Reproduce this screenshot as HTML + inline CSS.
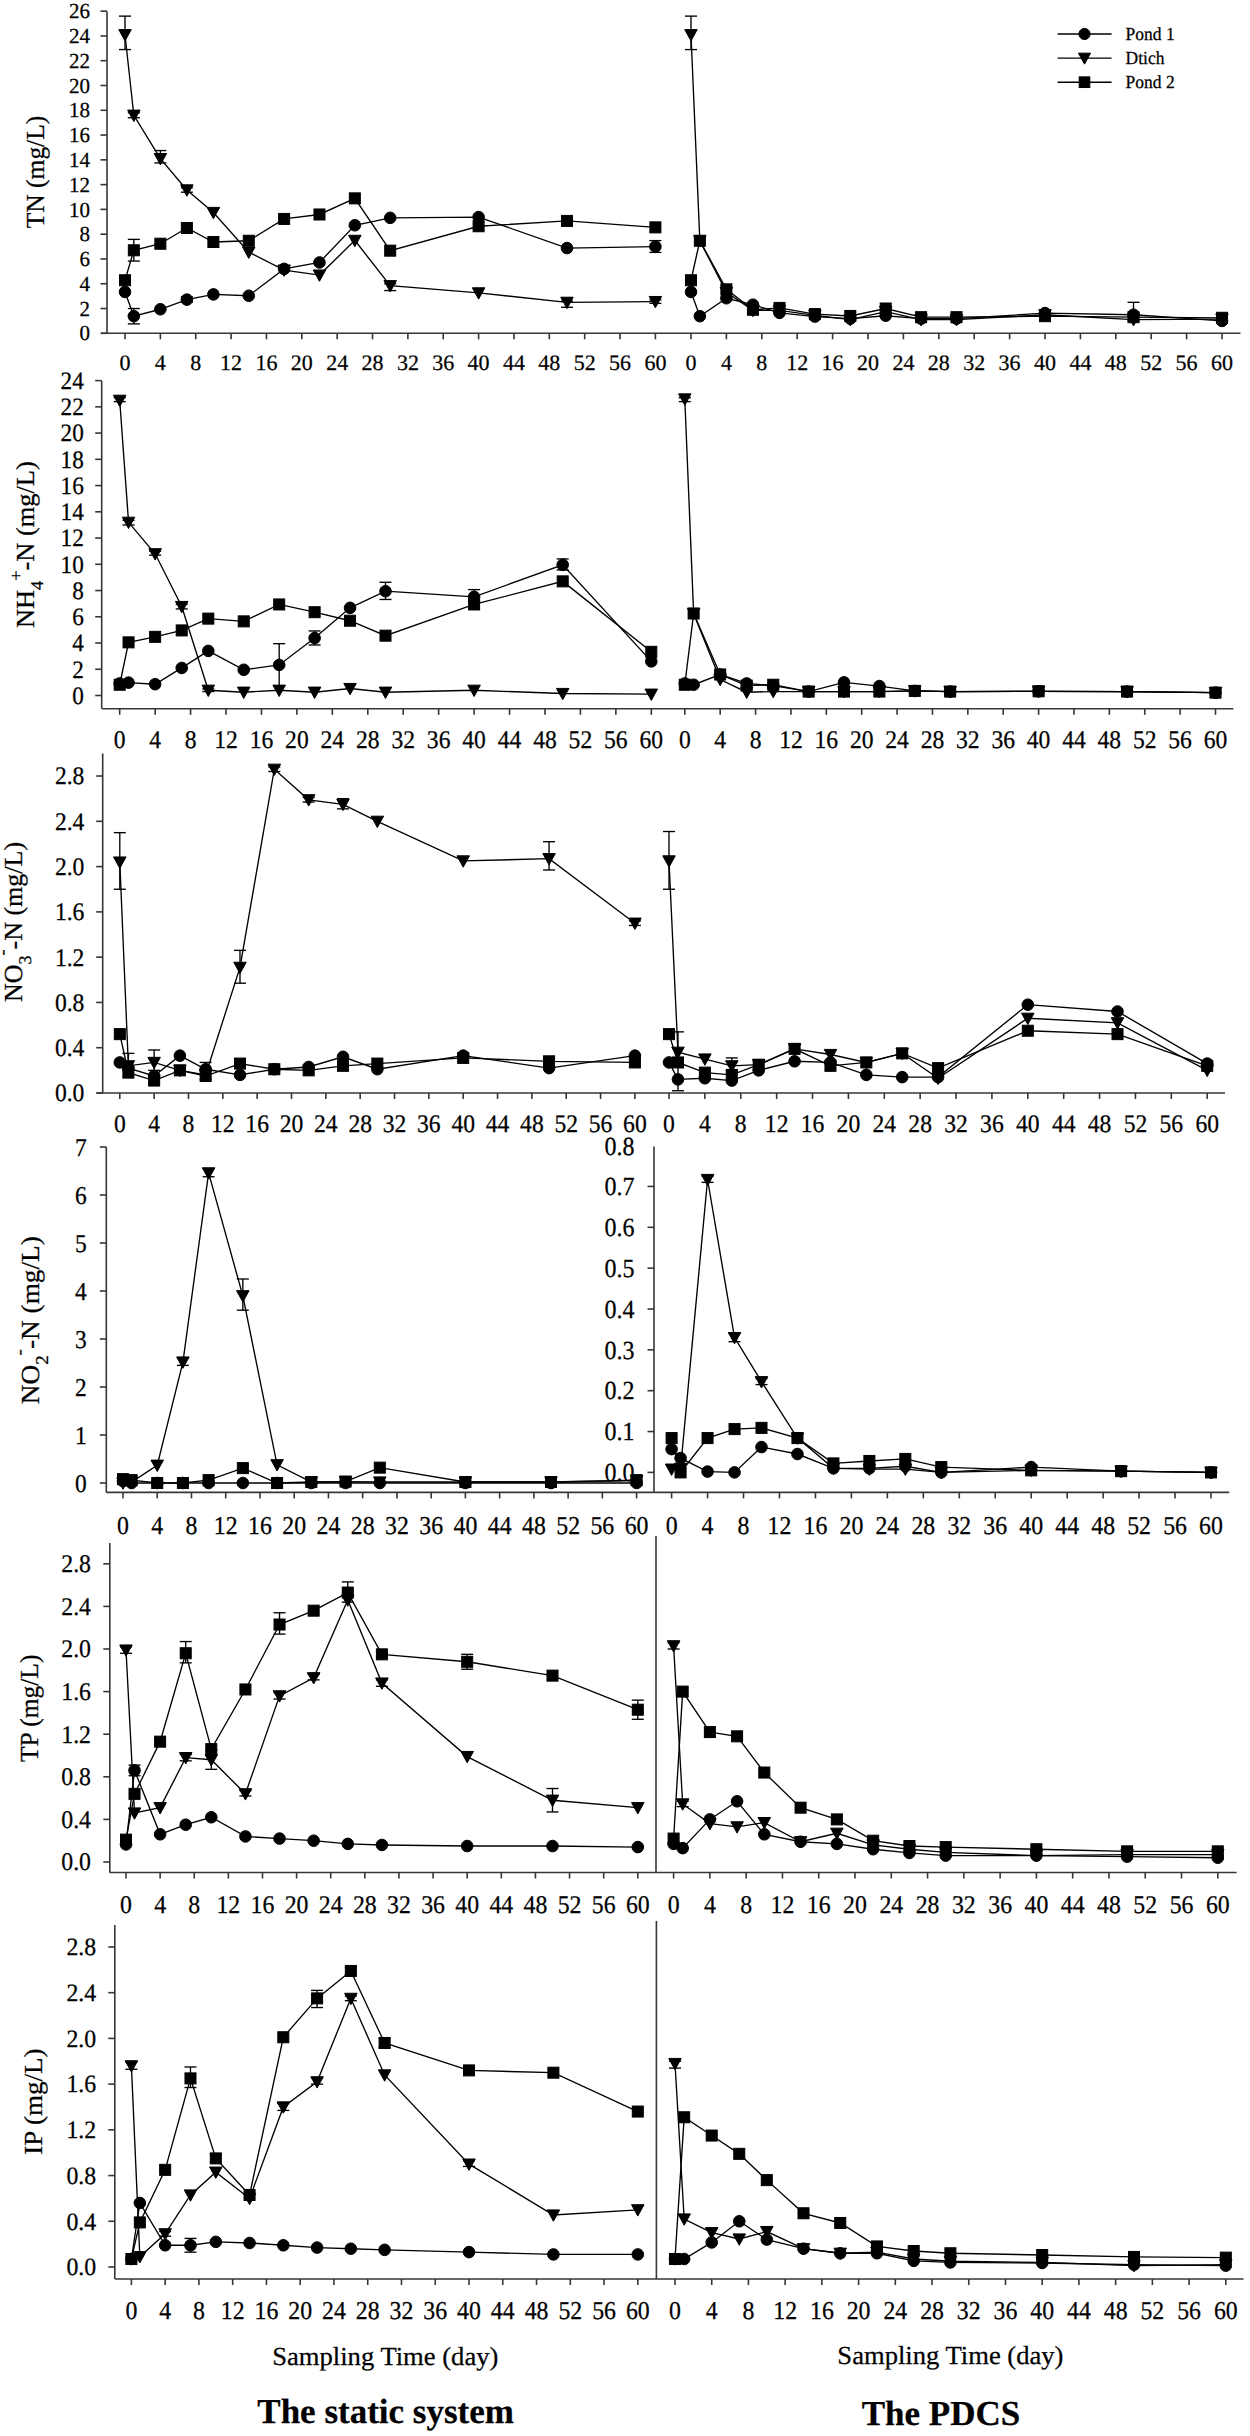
<!DOCTYPE html>
<html><head><meta charset="utf-8"><title>Nitrogen and phosphorus dynamics</title>
<style>
html,body{margin:0;padding:0;background:#fff;}
svg{display:block;}
text{font-family:"Liberation Serif", serif;fill:#000;text-rendering:geometricPrecision;}
</style></head>
<body>
<svg width="1250" height="2436" viewBox="0 0 1250 2436">
<rect width="1250" height="2436" fill="#fff"/>
<g stroke="#000" fill="#000" stroke-linecap="butt">
<line x1="107" y1="11.2" x2="107" y2="333.3" stroke-width="1.6" stroke="#363636"/>
<line x1="100.5" y1="333.3" x2="107" y2="333.3" stroke-width="1.6" stroke="#363636"/>
<text stroke="#000" stroke-width="0.25" transform="translate(90,340.43) scale(1.000,1.020)" font-size="21" text-anchor="end">0</text>
<line x1="100.5" y1="308.52" x2="107" y2="308.52" stroke-width="1.6" stroke="#363636"/>
<text stroke="#000" stroke-width="0.25" transform="translate(90,315.65) scale(1.000,1.020)" font-size="21" text-anchor="end">2</text>
<line x1="100.5" y1="283.74" x2="107" y2="283.74" stroke-width="1.6" stroke="#363636"/>
<text stroke="#000" stroke-width="0.25" transform="translate(90,290.87) scale(1.000,1.020)" font-size="21" text-anchor="end">4</text>
<line x1="100.5" y1="258.96" x2="107" y2="258.96" stroke-width="1.6" stroke="#363636"/>
<text stroke="#000" stroke-width="0.25" transform="translate(90,266.09) scale(1.000,1.020)" font-size="21" text-anchor="end">6</text>
<line x1="100.5" y1="234.18" x2="107" y2="234.18" stroke-width="1.6" stroke="#363636"/>
<text stroke="#000" stroke-width="0.25" transform="translate(90,241.31) scale(1.000,1.020)" font-size="21" text-anchor="end">8</text>
<line x1="100.5" y1="209.4" x2="107" y2="209.4" stroke-width="1.6" stroke="#363636"/>
<text stroke="#000" stroke-width="0.25" transform="translate(90,216.53) scale(1.000,1.020)" font-size="21" text-anchor="end">10</text>
<line x1="100.5" y1="184.62" x2="107" y2="184.62" stroke-width="1.6" stroke="#363636"/>
<text stroke="#000" stroke-width="0.25" transform="translate(90,191.75) scale(1.000,1.020)" font-size="21" text-anchor="end">12</text>
<line x1="100.5" y1="159.84" x2="107" y2="159.84" stroke-width="1.6" stroke="#363636"/>
<text stroke="#000" stroke-width="0.25" transform="translate(90,166.97) scale(1.000,1.020)" font-size="21" text-anchor="end">14</text>
<line x1="100.5" y1="135.06" x2="107" y2="135.06" stroke-width="1.6" stroke="#363636"/>
<text stroke="#000" stroke-width="0.25" transform="translate(90,142.19) scale(1.000,1.020)" font-size="21" text-anchor="end">16</text>
<line x1="100.5" y1="110.28" x2="107" y2="110.28" stroke-width="1.6" stroke="#363636"/>
<text stroke="#000" stroke-width="0.25" transform="translate(90,117.41) scale(1.000,1.020)" font-size="21" text-anchor="end">18</text>
<line x1="100.5" y1="85.5" x2="107" y2="85.5" stroke-width="1.6" stroke="#363636"/>
<text stroke="#000" stroke-width="0.25" transform="translate(90,92.63) scale(1.000,1.020)" font-size="21" text-anchor="end">20</text>
<line x1="100.5" y1="60.72" x2="107" y2="60.72" stroke-width="1.6" stroke="#363636"/>
<text stroke="#000" stroke-width="0.25" transform="translate(90,67.85) scale(1.000,1.020)" font-size="21" text-anchor="end">22</text>
<line x1="100.5" y1="35.94" x2="107" y2="35.94" stroke-width="1.6" stroke="#363636"/>
<text stroke="#000" stroke-width="0.25" transform="translate(90,43.07) scale(1.000,1.020)" font-size="21" text-anchor="end">24</text>
<line x1="100.5" y1="11.16" x2="107" y2="11.16" stroke-width="1.6" stroke="#363636"/>
<text stroke="#000" stroke-width="0.25" transform="translate(90,18.29) scale(1.000,1.020)" font-size="21" text-anchor="end">26</text>
<line x1="101" y1="333.3" x2="1240.5" y2="333.3" stroke-width="1.6" stroke="#363636"/>
<line x1="125" y1="333.3" x2="125" y2="339.3" stroke-width="1.6" stroke="#363636"/>
<text stroke="#000" stroke-width="0.25" x="125" y="369.9" font-size="22" text-anchor="middle">0</text>
<line x1="160.36" y1="333.3" x2="160.36" y2="339.3" stroke-width="1.6" stroke="#363636"/>
<text stroke="#000" stroke-width="0.25" x="160.36" y="369.9" font-size="22" text-anchor="middle">4</text>
<line x1="195.72" y1="333.3" x2="195.72" y2="339.3" stroke-width="1.6" stroke="#363636"/>
<text stroke="#000" stroke-width="0.25" x="195.72" y="369.9" font-size="22" text-anchor="middle">8</text>
<line x1="231.08" y1="333.3" x2="231.08" y2="339.3" stroke-width="1.6" stroke="#363636"/>
<text stroke="#000" stroke-width="0.25" x="231.08" y="369.9" font-size="22" text-anchor="middle">12</text>
<line x1="266.44" y1="333.3" x2="266.44" y2="339.3" stroke-width="1.6" stroke="#363636"/>
<text stroke="#000" stroke-width="0.25" x="266.44" y="369.9" font-size="22" text-anchor="middle">16</text>
<line x1="301.8" y1="333.3" x2="301.8" y2="339.3" stroke-width="1.6" stroke="#363636"/>
<text stroke="#000" stroke-width="0.25" x="301.8" y="369.9" font-size="22" text-anchor="middle">20</text>
<line x1="337.16" y1="333.3" x2="337.16" y2="339.3" stroke-width="1.6" stroke="#363636"/>
<text stroke="#000" stroke-width="0.25" x="337.16" y="369.9" font-size="22" text-anchor="middle">24</text>
<line x1="372.52" y1="333.3" x2="372.52" y2="339.3" stroke-width="1.6" stroke="#363636"/>
<text stroke="#000" stroke-width="0.25" x="372.52" y="369.9" font-size="22" text-anchor="middle">28</text>
<line x1="407.88" y1="333.3" x2="407.88" y2="339.3" stroke-width="1.6" stroke="#363636"/>
<text stroke="#000" stroke-width="0.25" x="407.88" y="369.9" font-size="22" text-anchor="middle">32</text>
<line x1="443.24" y1="333.3" x2="443.24" y2="339.3" stroke-width="1.6" stroke="#363636"/>
<text stroke="#000" stroke-width="0.25" x="443.24" y="369.9" font-size="22" text-anchor="middle">36</text>
<line x1="478.6" y1="333.3" x2="478.6" y2="339.3" stroke-width="1.6" stroke="#363636"/>
<text stroke="#000" stroke-width="0.25" x="478.6" y="369.9" font-size="22" text-anchor="middle">40</text>
<line x1="513.96" y1="333.3" x2="513.96" y2="339.3" stroke-width="1.6" stroke="#363636"/>
<text stroke="#000" stroke-width="0.25" x="513.96" y="369.9" font-size="22" text-anchor="middle">44</text>
<line x1="549.32" y1="333.3" x2="549.32" y2="339.3" stroke-width="1.6" stroke="#363636"/>
<text stroke="#000" stroke-width="0.25" x="549.32" y="369.9" font-size="22" text-anchor="middle">48</text>
<line x1="584.68" y1="333.3" x2="584.68" y2="339.3" stroke-width="1.6" stroke="#363636"/>
<text stroke="#000" stroke-width="0.25" x="584.68" y="369.9" font-size="22" text-anchor="middle">52</text>
<line x1="620.04" y1="333.3" x2="620.04" y2="339.3" stroke-width="1.6" stroke="#363636"/>
<text stroke="#000" stroke-width="0.25" x="620.04" y="369.9" font-size="22" text-anchor="middle">56</text>
<line x1="655.4" y1="333.3" x2="655.4" y2="339.3" stroke-width="1.6" stroke="#363636"/>
<text stroke="#000" stroke-width="0.25" x="655.4" y="369.9" font-size="22" text-anchor="middle">60</text>
<line x1="691" y1="333.3" x2="691" y2="339.3" stroke-width="1.6" stroke="#363636"/>
<text stroke="#000" stroke-width="0.25" x="691" y="369.9" font-size="22" text-anchor="middle">0</text>
<line x1="726.4" y1="333.3" x2="726.4" y2="339.3" stroke-width="1.6" stroke="#363636"/>
<text stroke="#000" stroke-width="0.25" x="726.4" y="369.9" font-size="22" text-anchor="middle">4</text>
<line x1="761.8" y1="333.3" x2="761.8" y2="339.3" stroke-width="1.6" stroke="#363636"/>
<text stroke="#000" stroke-width="0.25" x="761.8" y="369.9" font-size="22" text-anchor="middle">8</text>
<line x1="797.2" y1="333.3" x2="797.2" y2="339.3" stroke-width="1.6" stroke="#363636"/>
<text stroke="#000" stroke-width="0.25" x="797.2" y="369.9" font-size="22" text-anchor="middle">12</text>
<line x1="832.6" y1="333.3" x2="832.6" y2="339.3" stroke-width="1.6" stroke="#363636"/>
<text stroke="#000" stroke-width="0.25" x="832.6" y="369.9" font-size="22" text-anchor="middle">16</text>
<line x1="868" y1="333.3" x2="868" y2="339.3" stroke-width="1.6" stroke="#363636"/>
<text stroke="#000" stroke-width="0.25" x="868" y="369.9" font-size="22" text-anchor="middle">20</text>
<line x1="903.4" y1="333.3" x2="903.4" y2="339.3" stroke-width="1.6" stroke="#363636"/>
<text stroke="#000" stroke-width="0.25" x="903.4" y="369.9" font-size="22" text-anchor="middle">24</text>
<line x1="938.8" y1="333.3" x2="938.8" y2="339.3" stroke-width="1.6" stroke="#363636"/>
<text stroke="#000" stroke-width="0.25" x="938.8" y="369.9" font-size="22" text-anchor="middle">28</text>
<line x1="974.2" y1="333.3" x2="974.2" y2="339.3" stroke-width="1.6" stroke="#363636"/>
<text stroke="#000" stroke-width="0.25" x="974.2" y="369.9" font-size="22" text-anchor="middle">32</text>
<line x1="1009.6" y1="333.3" x2="1009.6" y2="339.3" stroke-width="1.6" stroke="#363636"/>
<text stroke="#000" stroke-width="0.25" x="1009.6" y="369.9" font-size="22" text-anchor="middle">36</text>
<line x1="1045" y1="333.3" x2="1045" y2="339.3" stroke-width="1.6" stroke="#363636"/>
<text stroke="#000" stroke-width="0.25" x="1045" y="369.9" font-size="22" text-anchor="middle">40</text>
<line x1="1080.4" y1="333.3" x2="1080.4" y2="339.3" stroke-width="1.6" stroke="#363636"/>
<text stroke="#000" stroke-width="0.25" x="1080.4" y="369.9" font-size="22" text-anchor="middle">44</text>
<line x1="1115.8" y1="333.3" x2="1115.8" y2="339.3" stroke-width="1.6" stroke="#363636"/>
<text stroke="#000" stroke-width="0.25" x="1115.8" y="369.9" font-size="22" text-anchor="middle">48</text>
<line x1="1151.2" y1="333.3" x2="1151.2" y2="339.3" stroke-width="1.6" stroke="#363636"/>
<text stroke="#000" stroke-width="0.25" x="1151.2" y="369.9" font-size="22" text-anchor="middle">52</text>
<line x1="1186.6" y1="333.3" x2="1186.6" y2="339.3" stroke-width="1.6" stroke="#363636"/>
<text stroke="#000" stroke-width="0.25" x="1186.6" y="369.9" font-size="22" text-anchor="middle">56</text>
<line x1="1222" y1="333.3" x2="1222" y2="339.3" stroke-width="1.6" stroke="#363636"/>
<text stroke="#000" stroke-width="0.25" x="1222" y="369.9" font-size="22" text-anchor="middle">60</text>
<text stroke="#000" stroke-width="0.25" transform="translate(44.3,172) rotate(-90) scale(0.980,1.000)" x="0" y="0" font-size="26" text-anchor="middle">TN (mg/L)</text>
<polyline fill="none" stroke-width="1.35" points="125,291.92 133.84,316.2 160.36,309.26 186.88,299.6 213.4,294.4 248.76,295.76 284.12,268.87 319.48,262.43 354.84,225.26 390.2,217.83 478.6,217.08 567,248.06 655.4,246.57"/>
<line x1="133.84" y1="323.88" x2="133.84" y2="308.52" stroke-width="1.35"/>
<line x1="127.84" y1="323.88" x2="139.84" y2="323.88" stroke-width="1.35"/>
<line x1="127.84" y1="308.52" x2="139.84" y2="308.52" stroke-width="1.35"/>
<line x1="186.88" y1="302.32" x2="186.88" y2="296.75" stroke-width="1.35"/>
<line x1="180.88" y1="302.32" x2="192.88" y2="302.32" stroke-width="1.35"/>
<line x1="180.88" y1="296.75" x2="192.88" y2="296.75" stroke-width="1.35"/>
<line x1="655.4" y1="252.39" x2="655.4" y2="240.62" stroke-width="1.35"/>
<line x1="649.4" y1="252.39" x2="661.4" y2="252.39" stroke-width="1.35"/>
<line x1="649.4" y1="240.62" x2="661.4" y2="240.62" stroke-width="1.35"/>
<circle cx="125" cy="291.92" r="5.8"/>
<circle cx="133.84" cy="316.2" r="5.8"/>
<circle cx="160.36" cy="309.26" r="5.8"/>
<circle cx="186.88" cy="299.6" r="5.8"/>
<circle cx="213.4" cy="294.4" r="5.8"/>
<circle cx="248.76" cy="295.76" r="5.8"/>
<circle cx="284.12" cy="268.87" r="5.8"/>
<circle cx="319.48" cy="262.43" r="5.8"/>
<circle cx="354.84" cy="225.26" r="5.8"/>
<circle cx="390.2" cy="217.83" r="5.8"/>
<circle cx="478.6" cy="217.08" r="5.8"/>
<circle cx="567" cy="248.06" r="5.8"/>
<circle cx="655.4" cy="246.57" r="5.8"/>
<polyline fill="none" stroke-width="1.35" points="125,34.7 133.84,115.24 160.36,158.6 186.88,189.95 213.4,212.5 248.76,252.15 284.12,270.11 319.48,275.07 354.84,240.38 390.2,285.72 478.6,292.91 567,302.32 655.4,301.58"/>
<line x1="125" y1="49.57" x2="125" y2="16.12" stroke-width="1.35"/>
<line x1="119" y1="49.57" x2="131" y2="49.57" stroke-width="1.35"/>
<line x1="119" y1="16.12" x2="131" y2="16.12" stroke-width="1.35"/>
<line x1="133.84" y1="117.71" x2="133.84" y2="112.76" stroke-width="1.35"/>
<line x1="127.84" y1="117.71" x2="139.84" y2="117.71" stroke-width="1.35"/>
<line x1="127.84" y1="112.76" x2="139.84" y2="112.76" stroke-width="1.35"/>
<line x1="160.36" y1="162.94" x2="160.36" y2="150.55" stroke-width="1.35"/>
<line x1="154.36" y1="162.94" x2="166.36" y2="162.94" stroke-width="1.35"/>
<line x1="154.36" y1="150.55" x2="166.36" y2="150.55" stroke-width="1.35"/>
<line x1="186.88" y1="192.18" x2="186.88" y2="187.72" stroke-width="1.35"/>
<line x1="180.88" y1="192.18" x2="192.88" y2="192.18" stroke-width="1.35"/>
<line x1="180.88" y1="187.72" x2="192.88" y2="187.72" stroke-width="1.35"/>
<line x1="390.2" y1="290.55" x2="390.2" y2="283.74" stroke-width="1.35"/>
<line x1="384.2" y1="290.55" x2="396.2" y2="290.55" stroke-width="1.35"/>
<line x1="384.2" y1="283.74" x2="396.2" y2="283.74" stroke-width="1.35"/>
<line x1="567" y1="307.28" x2="567" y2="301.09" stroke-width="1.35"/>
<line x1="561" y1="307.28" x2="573" y2="307.28" stroke-width="1.35"/>
<line x1="561" y1="301.09" x2="573" y2="301.09" stroke-width="1.35"/>
<line x1="655.4" y1="303.32" x2="655.4" y2="299.85" stroke-width="1.35"/>
<line x1="649.4" y1="303.32" x2="661.4" y2="303.32" stroke-width="1.35"/>
<line x1="649.4" y1="299.85" x2="661.4" y2="299.85" stroke-width="1.35"/>
<path d="M118.74 29.59H131.26L125 40.95Z"/>
<path d="M127.58 110.12H140.1L133.84 121.49Z"/>
<path d="M154.1 153.49H166.62L160.36 164.85Z"/>
<path d="M180.62 184.83H193.14L186.88 196.2Z"/>
<path d="M207.14 207.38H219.66L213.4 218.75Z"/>
<path d="M242.5 247.03H255.02L248.76 258.4Z"/>
<path d="M277.86 265H290.38L284.12 276.36Z"/>
<path d="M313.22 269.95H325.74L319.48 281.32Z"/>
<path d="M348.58 235.26H361.1L354.84 246.63Z"/>
<path d="M383.94 280.61H396.46L390.2 291.97Z"/>
<path d="M472.34 287.79H484.86L478.6 299.16Z"/>
<path d="M560.74 297.21H573.26L567 308.58Z"/>
<path d="M649.14 296.47H661.66L655.4 307.83Z"/>
<polyline fill="none" stroke-width="1.35" points="125,280.27 133.84,250.29 160.36,243.72 186.88,227.99 213.4,241.99 248.76,240.75 284.12,218.94 319.48,214.48 354.84,198.37 390.2,250.66 478.6,226.25 567,220.92 655.4,227.37"/>
<line x1="133.84" y1="261.07" x2="133.84" y2="239.38" stroke-width="1.35"/>
<line x1="127.84" y1="261.07" x2="139.84" y2="261.07" stroke-width="1.35"/>
<line x1="127.84" y1="239.38" x2="139.84" y2="239.38" stroke-width="1.35"/>
<rect x="119.49" y="274.76" width="11.02" height="11.02"/>
<rect x="128.33" y="244.78" width="11.02" height="11.02"/>
<rect x="154.85" y="238.21" width="11.02" height="11.02"/>
<rect x="181.37" y="222.48" width="11.02" height="11.02"/>
<rect x="207.89" y="236.48" width="11.02" height="11.02"/>
<rect x="243.25" y="235.24" width="11.02" height="11.02"/>
<rect x="278.61" y="213.43" width="11.02" height="11.02"/>
<rect x="313.97" y="208.97" width="11.02" height="11.02"/>
<rect x="349.33" y="192.86" width="11.02" height="11.02"/>
<rect x="384.69" y="245.15" width="11.02" height="11.02"/>
<rect x="473.09" y="220.74" width="11.02" height="11.02"/>
<rect x="561.49" y="215.41" width="11.02" height="11.02"/>
<rect x="649.89" y="221.86" width="11.02" height="11.02"/>
<polyline fill="none" stroke-width="1.35" points="691,291.92 699.85,316.2 726.4,298.24 752.95,304.68 779.5,312.86 814.9,316.57 850.3,318.68 885.7,315.71 921.1,318.68 956.5,318.68 1045,313.1 1133.5,314.72 1222,320.91"/>
<circle cx="691" cy="291.92" r="5.8"/>
<circle cx="699.85" cy="316.2" r="5.8"/>
<circle cx="726.4" cy="298.24" r="5.8"/>
<circle cx="752.95" cy="304.68" r="5.8"/>
<circle cx="779.5" cy="312.86" r="5.8"/>
<circle cx="814.9" cy="316.57" r="5.8"/>
<circle cx="850.3" cy="318.68" r="5.8"/>
<circle cx="885.7" cy="315.71" r="5.8"/>
<circle cx="921.1" cy="318.68" r="5.8"/>
<circle cx="956.5" cy="318.68" r="5.8"/>
<circle cx="1045" cy="313.1" r="5.8"/>
<circle cx="1133.5" cy="314.72" r="5.8"/>
<circle cx="1222" cy="320.91" r="5.8"/>
<polyline fill="none" stroke-width="1.35" points="691,34.7 699.85,240.75 726.4,292.41 752.95,310.38 779.5,310.38 814.9,315.33 850.3,319.67 885.7,311.62 921.1,319.67 956.5,319.67 1045,314.72 1133.5,319.67 1222,319.05"/>
<line x1="691" y1="49.57" x2="691" y2="16.12" stroke-width="1.35"/>
<line x1="685" y1="49.57" x2="697" y2="49.57" stroke-width="1.35"/>
<line x1="685" y1="16.12" x2="697" y2="16.12" stroke-width="1.35"/>
<path d="M684.74 29.59H697.26L691 40.95Z"/>
<path d="M693.59 235.63H706.11L699.85 247Z"/>
<path d="M720.14 287.3H732.66L726.4 298.67Z"/>
<path d="M746.69 305.26H759.21L752.95 316.63Z"/>
<path d="M773.24 305.26H785.76L779.5 316.63Z"/>
<path d="M808.64 310.22H821.16L814.9 321.59Z"/>
<path d="M844.04 314.56H856.56L850.3 325.92Z"/>
<path d="M879.44 306.5H891.96L885.7 317.87Z"/>
<path d="M914.84 314.56H927.36L921.1 325.92Z"/>
<path d="M950.24 314.56H962.76L956.5 325.92Z"/>
<path d="M1038.74 309.6H1051.26L1045 320.97Z"/>
<path d="M1127.24 314.56H1139.76L1133.5 325.92Z"/>
<path d="M1215.74 313.94H1228.26L1222 325.3Z"/>
<polyline fill="none" stroke-width="1.35" points="691,280.27 699.85,240.75 726.4,289.32 752.95,309.76 779.5,307.9 814.9,314.1 850.3,315.95 885.7,308.52 921.1,317.19 956.5,317.19 1045,316.2 1133.5,317.19 1222,317.81"/>
<line x1="1133.5" y1="320.91" x2="1133.5" y2="302.32" stroke-width="1.35"/>
<line x1="1127.5" y1="320.91" x2="1139.5" y2="320.91" stroke-width="1.35"/>
<line x1="1127.5" y1="302.32" x2="1139.5" y2="302.32" stroke-width="1.35"/>
<rect x="685.49" y="274.76" width="11.02" height="11.02"/>
<rect x="694.34" y="235.24" width="11.02" height="11.02"/>
<rect x="720.89" y="283.81" width="11.02" height="11.02"/>
<rect x="747.44" y="304.25" width="11.02" height="11.02"/>
<rect x="773.99" y="302.39" width="11.02" height="11.02"/>
<rect x="809.39" y="308.59" width="11.02" height="11.02"/>
<rect x="844.79" y="310.44" width="11.02" height="11.02"/>
<rect x="880.19" y="303.01" width="11.02" height="11.02"/>
<rect x="915.59" y="311.68" width="11.02" height="11.02"/>
<rect x="950.99" y="311.68" width="11.02" height="11.02"/>
<rect x="1039.49" y="310.69" width="11.02" height="11.02"/>
<rect x="1127.99" y="311.68" width="11.02" height="11.02"/>
<rect x="1216.49" y="312.3" width="11.02" height="11.02"/>
<line x1="1057.6" y1="34" x2="1111.6" y2="34" stroke-width="1.35"/>
<circle cx="1084.5" cy="34" r="5.6"/>
<text stroke="#000" stroke-width="0.25" transform="translate(1125.6,40) scale(1.000,1.050)" font-size="17.5" text-anchor="start">Pond 1</text>
<line x1="1057.6" y1="58.1" x2="1111.6" y2="58.1" stroke-width="1.35"/>
<path d="M1078.45 53.16H1090.55L1084.5 64.14Z"/>
<text stroke="#000" stroke-width="0.25" transform="translate(1125.6,64.1) scale(1.000,1.050)" font-size="17.5" text-anchor="start">Dtich</text>
<line x1="1057.6" y1="82.2" x2="1111.6" y2="82.2" stroke-width="1.35"/>
<rect x="1079.18" y="76.88" width="10.64" height="10.64"/>
<text stroke="#000" stroke-width="0.25" transform="translate(1125.6,88.2) scale(1.000,1.050)" font-size="17.5" text-anchor="start">Pond 2</text>
<line x1="101.7" y1="381" x2="101.7" y2="708.8" stroke-width="1.6" stroke="#363636"/>
<line x1="95.2" y1="695.5" x2="101.7" y2="695.5" stroke-width="1.6" stroke="#363636"/>
<text stroke="#000" stroke-width="0.25" transform="translate(83.8,703.84) scale(1.000,1.080)" font-size="23.2" text-anchor="end">0</text>
<line x1="95.2" y1="669.26" x2="101.7" y2="669.26" stroke-width="1.6" stroke="#363636"/>
<text stroke="#000" stroke-width="0.25" transform="translate(83.8,677.6) scale(1.000,1.080)" font-size="23.2" text-anchor="end">2</text>
<line x1="95.2" y1="643.02" x2="101.7" y2="643.02" stroke-width="1.6" stroke="#363636"/>
<text stroke="#000" stroke-width="0.25" transform="translate(83.8,651.36) scale(1.000,1.080)" font-size="23.2" text-anchor="end">4</text>
<line x1="95.2" y1="616.78" x2="101.7" y2="616.78" stroke-width="1.6" stroke="#363636"/>
<text stroke="#000" stroke-width="0.25" transform="translate(83.8,625.12) scale(1.000,1.080)" font-size="23.2" text-anchor="end">6</text>
<line x1="95.2" y1="590.54" x2="101.7" y2="590.54" stroke-width="1.6" stroke="#363636"/>
<text stroke="#000" stroke-width="0.25" transform="translate(83.8,598.88) scale(1.000,1.080)" font-size="23.2" text-anchor="end">8</text>
<line x1="95.2" y1="564.3" x2="101.7" y2="564.3" stroke-width="1.6" stroke="#363636"/>
<text stroke="#000" stroke-width="0.25" transform="translate(83.8,572.64) scale(1.000,1.080)" font-size="23.2" text-anchor="end">10</text>
<line x1="95.2" y1="538.06" x2="101.7" y2="538.06" stroke-width="1.6" stroke="#363636"/>
<text stroke="#000" stroke-width="0.25" transform="translate(83.8,546.4) scale(1.000,1.080)" font-size="23.2" text-anchor="end">12</text>
<line x1="95.2" y1="511.82" x2="101.7" y2="511.82" stroke-width="1.6" stroke="#363636"/>
<text stroke="#000" stroke-width="0.25" transform="translate(83.8,520.16) scale(1.000,1.080)" font-size="23.2" text-anchor="end">14</text>
<line x1="95.2" y1="485.58" x2="101.7" y2="485.58" stroke-width="1.6" stroke="#363636"/>
<text stroke="#000" stroke-width="0.25" transform="translate(83.8,493.92) scale(1.000,1.080)" font-size="23.2" text-anchor="end">16</text>
<line x1="95.2" y1="459.34" x2="101.7" y2="459.34" stroke-width="1.6" stroke="#363636"/>
<text stroke="#000" stroke-width="0.25" transform="translate(83.8,467.68) scale(1.000,1.080)" font-size="23.2" text-anchor="end">18</text>
<line x1="95.2" y1="433.1" x2="101.7" y2="433.1" stroke-width="1.6" stroke="#363636"/>
<text stroke="#000" stroke-width="0.25" transform="translate(83.8,441.44) scale(1.000,1.080)" font-size="23.2" text-anchor="end">20</text>
<line x1="95.2" y1="406.86" x2="101.7" y2="406.86" stroke-width="1.6" stroke="#363636"/>
<text stroke="#000" stroke-width="0.25" transform="translate(83.8,415.2) scale(1.000,1.080)" font-size="23.2" text-anchor="end">22</text>
<line x1="95.2" y1="380.62" x2="101.7" y2="380.62" stroke-width="1.6" stroke="#363636"/>
<text stroke="#000" stroke-width="0.25" transform="translate(83.8,388.96) scale(1.000,1.080)" font-size="23.2" text-anchor="end">24</text>
<line x1="102" y1="708.8" x2="1233.4" y2="708.8" stroke-width="1.6" stroke="#363636"/>
<line x1="119.7" y1="708.8" x2="119.7" y2="714.8" stroke-width="1.6" stroke="#363636"/>
<text stroke="#000" stroke-width="0.25" transform="translate(119.7,748.4) scale(1.000,1.080)" font-size="23.6" text-anchor="middle">0</text>
<line x1="155.14" y1="708.8" x2="155.14" y2="714.8" stroke-width="1.6" stroke="#363636"/>
<text stroke="#000" stroke-width="0.25" transform="translate(155.14,748.4) scale(1.000,1.080)" font-size="23.6" text-anchor="middle">4</text>
<line x1="190.58" y1="708.8" x2="190.58" y2="714.8" stroke-width="1.6" stroke="#363636"/>
<text stroke="#000" stroke-width="0.25" transform="translate(190.58,748.4) scale(1.000,1.080)" font-size="23.6" text-anchor="middle">8</text>
<line x1="226.02" y1="708.8" x2="226.02" y2="714.8" stroke-width="1.6" stroke="#363636"/>
<text stroke="#000" stroke-width="0.25" transform="translate(226.02,748.4) scale(1.000,1.080)" font-size="23.6" text-anchor="middle">12</text>
<line x1="261.46" y1="708.8" x2="261.46" y2="714.8" stroke-width="1.6" stroke="#363636"/>
<text stroke="#000" stroke-width="0.25" transform="translate(261.46,748.4) scale(1.000,1.080)" font-size="23.6" text-anchor="middle">16</text>
<line x1="296.9" y1="708.8" x2="296.9" y2="714.8" stroke-width="1.6" stroke="#363636"/>
<text stroke="#000" stroke-width="0.25" transform="translate(296.9,748.4) scale(1.000,1.080)" font-size="23.6" text-anchor="middle">20</text>
<line x1="332.34" y1="708.8" x2="332.34" y2="714.8" stroke-width="1.6" stroke="#363636"/>
<text stroke="#000" stroke-width="0.25" transform="translate(332.34,748.4) scale(1.000,1.080)" font-size="23.6" text-anchor="middle">24</text>
<line x1="367.78" y1="708.8" x2="367.78" y2="714.8" stroke-width="1.6" stroke="#363636"/>
<text stroke="#000" stroke-width="0.25" transform="translate(367.78,748.4) scale(1.000,1.080)" font-size="23.6" text-anchor="middle">28</text>
<line x1="403.22" y1="708.8" x2="403.22" y2="714.8" stroke-width="1.6" stroke="#363636"/>
<text stroke="#000" stroke-width="0.25" transform="translate(403.22,748.4) scale(1.000,1.080)" font-size="23.6" text-anchor="middle">32</text>
<line x1="438.66" y1="708.8" x2="438.66" y2="714.8" stroke-width="1.6" stroke="#363636"/>
<text stroke="#000" stroke-width="0.25" transform="translate(438.66,748.4) scale(1.000,1.080)" font-size="23.6" text-anchor="middle">36</text>
<line x1="474.1" y1="708.8" x2="474.1" y2="714.8" stroke-width="1.6" stroke="#363636"/>
<text stroke="#000" stroke-width="0.25" transform="translate(474.1,748.4) scale(1.000,1.080)" font-size="23.6" text-anchor="middle">40</text>
<line x1="509.54" y1="708.8" x2="509.54" y2="714.8" stroke-width="1.6" stroke="#363636"/>
<text stroke="#000" stroke-width="0.25" transform="translate(509.54,748.4) scale(1.000,1.080)" font-size="23.6" text-anchor="middle">44</text>
<line x1="544.98" y1="708.8" x2="544.98" y2="714.8" stroke-width="1.6" stroke="#363636"/>
<text stroke="#000" stroke-width="0.25" transform="translate(544.98,748.4) scale(1.000,1.080)" font-size="23.6" text-anchor="middle">48</text>
<line x1="580.42" y1="708.8" x2="580.42" y2="714.8" stroke-width="1.6" stroke="#363636"/>
<text stroke="#000" stroke-width="0.25" transform="translate(580.42,748.4) scale(1.000,1.080)" font-size="23.6" text-anchor="middle">52</text>
<line x1="615.86" y1="708.8" x2="615.86" y2="714.8" stroke-width="1.6" stroke="#363636"/>
<text stroke="#000" stroke-width="0.25" transform="translate(615.86,748.4) scale(1.000,1.080)" font-size="23.6" text-anchor="middle">56</text>
<line x1="651.3" y1="708.8" x2="651.3" y2="714.8" stroke-width="1.6" stroke="#363636"/>
<text stroke="#000" stroke-width="0.25" transform="translate(651.3,748.4) scale(1.000,1.080)" font-size="23.6" text-anchor="middle">60</text>
<line x1="684.8" y1="708.8" x2="684.8" y2="714.8" stroke-width="1.6" stroke="#363636"/>
<text stroke="#000" stroke-width="0.25" transform="translate(684.8,748.4) scale(1.000,1.080)" font-size="23.6" text-anchor="middle">0</text>
<line x1="720.18" y1="708.8" x2="720.18" y2="714.8" stroke-width="1.6" stroke="#363636"/>
<text stroke="#000" stroke-width="0.25" transform="translate(720.18,748.4) scale(1.000,1.080)" font-size="23.6" text-anchor="middle">4</text>
<line x1="755.56" y1="708.8" x2="755.56" y2="714.8" stroke-width="1.6" stroke="#363636"/>
<text stroke="#000" stroke-width="0.25" transform="translate(755.56,748.4) scale(1.000,1.080)" font-size="23.6" text-anchor="middle">8</text>
<line x1="790.94" y1="708.8" x2="790.94" y2="714.8" stroke-width="1.6" stroke="#363636"/>
<text stroke="#000" stroke-width="0.25" transform="translate(790.94,748.4) scale(1.000,1.080)" font-size="23.6" text-anchor="middle">12</text>
<line x1="826.32" y1="708.8" x2="826.32" y2="714.8" stroke-width="1.6" stroke="#363636"/>
<text stroke="#000" stroke-width="0.25" transform="translate(826.32,748.4) scale(1.000,1.080)" font-size="23.6" text-anchor="middle">16</text>
<line x1="861.7" y1="708.8" x2="861.7" y2="714.8" stroke-width="1.6" stroke="#363636"/>
<text stroke="#000" stroke-width="0.25" transform="translate(861.7,748.4) scale(1.000,1.080)" font-size="23.6" text-anchor="middle">20</text>
<line x1="897.08" y1="708.8" x2="897.08" y2="714.8" stroke-width="1.6" stroke="#363636"/>
<text stroke="#000" stroke-width="0.25" transform="translate(897.08,748.4) scale(1.000,1.080)" font-size="23.6" text-anchor="middle">24</text>
<line x1="932.46" y1="708.8" x2="932.46" y2="714.8" stroke-width="1.6" stroke="#363636"/>
<text stroke="#000" stroke-width="0.25" transform="translate(932.46,748.4) scale(1.000,1.080)" font-size="23.6" text-anchor="middle">28</text>
<line x1="967.84" y1="708.8" x2="967.84" y2="714.8" stroke-width="1.6" stroke="#363636"/>
<text stroke="#000" stroke-width="0.25" transform="translate(967.84,748.4) scale(1.000,1.080)" font-size="23.6" text-anchor="middle">32</text>
<line x1="1003.22" y1="708.8" x2="1003.22" y2="714.8" stroke-width="1.6" stroke="#363636"/>
<text stroke="#000" stroke-width="0.25" transform="translate(1003.22,748.4) scale(1.000,1.080)" font-size="23.6" text-anchor="middle">36</text>
<line x1="1038.6" y1="708.8" x2="1038.6" y2="714.8" stroke-width="1.6" stroke="#363636"/>
<text stroke="#000" stroke-width="0.25" transform="translate(1038.6,748.4) scale(1.000,1.080)" font-size="23.6" text-anchor="middle">40</text>
<line x1="1073.98" y1="708.8" x2="1073.98" y2="714.8" stroke-width="1.6" stroke="#363636"/>
<text stroke="#000" stroke-width="0.25" transform="translate(1073.98,748.4) scale(1.000,1.080)" font-size="23.6" text-anchor="middle">44</text>
<line x1="1109.36" y1="708.8" x2="1109.36" y2="714.8" stroke-width="1.6" stroke="#363636"/>
<text stroke="#000" stroke-width="0.25" transform="translate(1109.36,748.4) scale(1.000,1.080)" font-size="23.6" text-anchor="middle">48</text>
<line x1="1144.74" y1="708.8" x2="1144.74" y2="714.8" stroke-width="1.6" stroke="#363636"/>
<text stroke="#000" stroke-width="0.25" transform="translate(1144.74,748.4) scale(1.000,1.080)" font-size="23.6" text-anchor="middle">52</text>
<line x1="1180.12" y1="708.8" x2="1180.12" y2="714.8" stroke-width="1.6" stroke="#363636"/>
<text stroke="#000" stroke-width="0.25" transform="translate(1180.12,748.4) scale(1.000,1.080)" font-size="23.6" text-anchor="middle">56</text>
<line x1="1215.5" y1="708.8" x2="1215.5" y2="714.8" stroke-width="1.6" stroke="#363636"/>
<text stroke="#000" stroke-width="0.25" transform="translate(1215.5,748.4) scale(1.000,1.080)" font-size="23.6" text-anchor="middle">60</text>
<text stroke="#000" stroke-width="0.25" transform="translate(34.4,544.7) rotate(-90) scale(1.015,1.000)" x="0" y="0" font-size="26" text-anchor="middle">NH<tspan font-size="18" dy="8.3">4</tspan><tspan font-size="18" dy="-20.8">+</tspan><tspan dy="12.5">-N (mg/L)</tspan></text>
<polyline fill="none" stroke-width="1.35" points="119.7,683.43 128.56,682.64 155.14,684.22 181.72,667.95 208.3,650.89 243.74,669.78 279.18,664.93 314.62,638.03 350.06,607.86 385.5,591.2 474.1,596.84 562.7,564.82 651.3,661.39"/>
<line x1="279.18" y1="685.66" x2="279.18" y2="643.68" stroke-width="1.35"/>
<line x1="273.18" y1="685.66" x2="285.18" y2="685.66" stroke-width="1.35"/>
<line x1="273.18" y1="643.68" x2="285.18" y2="643.68" stroke-width="1.35"/>
<line x1="314.62" y1="644.99" x2="314.62" y2="630.95" stroke-width="1.35"/>
<line x1="308.62" y1="644.99" x2="320.62" y2="644.99" stroke-width="1.35"/>
<line x1="308.62" y1="630.95" x2="320.62" y2="630.95" stroke-width="1.35"/>
<line x1="385.5" y1="599.46" x2="385.5" y2="582.27" stroke-width="1.35"/>
<line x1="379.5" y1="599.46" x2="391.5" y2="599.46" stroke-width="1.35"/>
<line x1="379.5" y1="582.27" x2="391.5" y2="582.27" stroke-width="1.35"/>
<line x1="474.1" y1="601.04" x2="474.1" y2="589.62" stroke-width="1.35"/>
<line x1="468.1" y1="601.04" x2="480.1" y2="601.04" stroke-width="1.35"/>
<line x1="468.1" y1="589.62" x2="480.1" y2="589.62" stroke-width="1.35"/>
<line x1="562.7" y1="569.94" x2="562.7" y2="558.92" stroke-width="1.35"/>
<line x1="556.7" y1="569.94" x2="568.7" y2="569.94" stroke-width="1.35"/>
<line x1="556.7" y1="558.92" x2="568.7" y2="558.92" stroke-width="1.35"/>
<circle cx="119.7" cy="683.43" r="5.8"/>
<circle cx="128.56" cy="682.64" r="5.8"/>
<circle cx="155.14" cy="684.22" r="5.8"/>
<circle cx="181.72" cy="667.95" r="5.8"/>
<circle cx="208.3" cy="650.89" r="5.8"/>
<circle cx="243.74" cy="669.78" r="5.8"/>
<circle cx="279.18" cy="664.93" r="5.8"/>
<circle cx="314.62" cy="638.03" r="5.8"/>
<circle cx="350.06" cy="607.86" r="5.8"/>
<circle cx="385.5" cy="591.2" r="5.8"/>
<circle cx="474.1" cy="596.84" r="5.8"/>
<circle cx="562.7" cy="564.82" r="5.8"/>
<circle cx="651.3" cy="661.39" r="5.8"/>
<polyline fill="none" stroke-width="1.35" points="119.7,400.3 128.56,522.32 155.14,553.8 181.72,606.55 208.3,690.25 243.74,692.22 279.18,690.25 314.62,692.22 350.06,688.55 385.5,692.22 474.1,690.25 562.7,693.53 651.3,694.19"/>
<line x1="119.7" y1="401.61" x2="119.7" y2="397.68" stroke-width="1.35"/>
<line x1="113.7" y1="401.61" x2="125.7" y2="401.61" stroke-width="1.35"/>
<line x1="113.7" y1="397.68" x2="125.7" y2="397.68" stroke-width="1.35"/>
<line x1="128.56" y1="524.94" x2="128.56" y2="520.35" stroke-width="1.35"/>
<line x1="122.56" y1="524.94" x2="134.56" y2="524.94" stroke-width="1.35"/>
<line x1="122.56" y1="520.35" x2="134.56" y2="520.35" stroke-width="1.35"/>
<line x1="155.14" y1="555.12" x2="155.14" y2="551.18" stroke-width="1.35"/>
<line x1="149.14" y1="555.12" x2="161.14" y2="555.12" stroke-width="1.35"/>
<line x1="149.14" y1="551.18" x2="161.14" y2="551.18" stroke-width="1.35"/>
<line x1="181.72" y1="608.91" x2="181.72" y2="604.32" stroke-width="1.35"/>
<line x1="175.72" y1="608.91" x2="187.72" y2="608.91" stroke-width="1.35"/>
<line x1="175.72" y1="604.32" x2="187.72" y2="604.32" stroke-width="1.35"/>
<line x1="208.3" y1="691.56" x2="208.3" y2="688.94" stroke-width="1.35"/>
<line x1="202.3" y1="691.56" x2="214.3" y2="691.56" stroke-width="1.35"/>
<line x1="202.3" y1="688.94" x2="214.3" y2="688.94" stroke-width="1.35"/>
<path d="M113.44 395.18H125.96L119.7 406.55Z"/>
<path d="M122.3 517.2H134.82L128.56 528.57Z"/>
<path d="M148.88 548.69H161.4L155.14 560.06Z"/>
<path d="M175.46 601.43H187.98L181.72 612.8Z"/>
<path d="M202.04 685.14H214.56L208.3 696.5Z"/>
<path d="M237.48 687.1H250L243.74 698.47Z"/>
<path d="M272.92 685.14H285.44L279.18 696.5Z"/>
<path d="M308.36 687.1H320.88L314.62 698.47Z"/>
<path d="M343.8 683.43H356.32L350.06 694.8Z"/>
<path d="M379.24 687.1H391.76L385.5 698.47Z"/>
<path d="M467.84 685.14H480.36L474.1 696.5Z"/>
<path d="M556.44 688.42H568.96L562.7 699.78Z"/>
<path d="M645.04 689.07H657.56L651.3 700.44Z"/>
<polyline fill="none" stroke-width="1.35" points="119.7,684.74 128.56,642.36 155.14,636.85 181.72,630.42 208.3,618.62 243.74,621.37 279.18,604.45 314.62,612.19 350.06,620.72 385.5,635.67 474.1,604.45 562.7,581.36 651.3,651.81"/>
<rect x="114.19" y="679.23" width="11.02" height="11.02"/>
<rect x="123.05" y="636.85" width="11.02" height="11.02"/>
<rect x="149.63" y="631.34" width="11.02" height="11.02"/>
<rect x="176.21" y="624.91" width="11.02" height="11.02"/>
<rect x="202.79" y="613.11" width="11.02" height="11.02"/>
<rect x="238.23" y="615.86" width="11.02" height="11.02"/>
<rect x="273.67" y="598.94" width="11.02" height="11.02"/>
<rect x="309.11" y="606.68" width="11.02" height="11.02"/>
<rect x="344.55" y="615.21" width="11.02" height="11.02"/>
<rect x="379.99" y="630.16" width="11.02" height="11.02"/>
<rect x="468.59" y="598.94" width="11.02" height="11.02"/>
<rect x="557.19" y="575.85" width="11.02" height="11.02"/>
<rect x="645.79" y="646.3" width="11.02" height="11.02"/>
<polyline fill="none" stroke-width="1.35" points="684.8,683.43 693.64,684.74 720.18,674.51 746.71,683.43 773.25,685.66 808.63,691.56 844.01,682.38 879.39,686.05 914.77,690.91 950.15,691.56 1038.6,691.3 1127.05,691.56 1215.5,692.61"/>
<circle cx="684.8" cy="683.43" r="5.8"/>
<circle cx="693.64" cy="684.74" r="5.8"/>
<circle cx="720.18" cy="674.51" r="5.8"/>
<circle cx="746.71" cy="683.43" r="5.8"/>
<circle cx="773.25" cy="685.66" r="5.8"/>
<circle cx="808.63" cy="691.56" r="5.8"/>
<circle cx="844.01" cy="682.38" r="5.8"/>
<circle cx="879.39" cy="686.05" r="5.8"/>
<circle cx="914.77" cy="690.91" r="5.8"/>
<circle cx="950.15" cy="691.56" r="5.8"/>
<circle cx="1038.6" cy="691.3" r="5.8"/>
<circle cx="1127.05" cy="691.56" r="5.8"/>
<circle cx="1215.5" cy="692.61" r="5.8"/>
<polyline fill="none" stroke-width="1.35" points="684.8,398.99 693.64,613.5 720.18,679.49 746.71,692.22 773.25,691.56 808.63,691.56 844.01,691.56 879.39,691.56 914.77,690.91 950.15,691.56 1038.6,691.3 1127.05,691.56 1215.5,692.61"/>
<line x1="684.8" y1="401.61" x2="684.8" y2="397.68" stroke-width="1.35"/>
<line x1="678.8" y1="401.61" x2="690.8" y2="401.61" stroke-width="1.35"/>
<line x1="678.8" y1="397.68" x2="690.8" y2="397.68" stroke-width="1.35"/>
<path d="M678.54 393.87H691.06L684.8 405.24Z"/>
<path d="M687.38 608.38H699.91L693.64 619.75Z"/>
<path d="M713.92 674.38H726.44L720.18 685.75Z"/>
<path d="M740.45 687.1H752.98L746.71 698.47Z"/>
<path d="M766.99 686.45H779.51L773.25 697.82Z"/>
<path d="M802.37 686.45H814.89L808.63 697.82Z"/>
<path d="M837.75 686.45H850.27L844.01 697.82Z"/>
<path d="M873.13 686.45H885.65L879.39 697.82Z"/>
<path d="M908.51 685.79H921.03L914.77 697.16Z"/>
<path d="M943.89 686.45H956.41L950.15 697.82Z"/>
<path d="M1032.34 686.19H1044.86L1038.6 697.55Z"/>
<path d="M1120.79 686.45H1133.31L1127.05 697.82Z"/>
<path d="M1209.24 687.5H1221.76L1215.5 698.87Z"/>
<polyline fill="none" stroke-width="1.35" points="684.8,684.74 693.64,613.5 720.18,674.51 746.71,685.66 773.25,684.74 808.63,691.56 844.01,691.56 879.39,691.56 914.77,690.91 950.15,691.56 1038.6,691.3 1127.05,691.56 1215.5,692.61"/>
<rect x="679.29" y="679.23" width="11.02" height="11.02"/>
<rect x="688.13" y="607.99" width="11.02" height="11.02"/>
<rect x="714.67" y="669" width="11.02" height="11.02"/>
<rect x="741.2" y="680.15" width="11.02" height="11.02"/>
<rect x="767.74" y="679.23" width="11.02" height="11.02"/>
<rect x="803.12" y="686.05" width="11.02" height="11.02"/>
<rect x="838.5" y="686.05" width="11.02" height="11.02"/>
<rect x="873.88" y="686.05" width="11.02" height="11.02"/>
<rect x="909.26" y="685.4" width="11.02" height="11.02"/>
<rect x="944.64" y="686.05" width="11.02" height="11.02"/>
<rect x="1033.09" y="685.79" width="11.02" height="11.02"/>
<rect x="1121.54" y="686.05" width="11.02" height="11.02"/>
<rect x="1209.99" y="687.1" width="11.02" height="11.02"/>
<line x1="102.7" y1="753.6" x2="102.7" y2="1093" stroke-width="1.6" stroke="#363636"/>
<line x1="96.2" y1="1093" x2="102.7" y2="1093" stroke-width="1.6" stroke="#363636"/>
<text stroke="#000" stroke-width="0.25" transform="translate(84.4,1101.41) scale(1.000,1.070)" font-size="23.6" text-anchor="end">0.0</text>
<line x1="96.2" y1="1047.72" x2="102.7" y2="1047.72" stroke-width="1.6" stroke="#363636"/>
<text stroke="#000" stroke-width="0.25" transform="translate(84.4,1056.13) scale(1.000,1.070)" font-size="23.6" text-anchor="end">0.4</text>
<line x1="96.2" y1="1002.44" x2="102.7" y2="1002.44" stroke-width="1.6" stroke="#363636"/>
<text stroke="#000" stroke-width="0.25" transform="translate(84.4,1010.85) scale(1.000,1.070)" font-size="23.6" text-anchor="end">0.8</text>
<line x1="96.2" y1="957.16" x2="102.7" y2="957.16" stroke-width="1.6" stroke="#363636"/>
<text stroke="#000" stroke-width="0.25" transform="translate(84.4,965.57) scale(1.000,1.070)" font-size="23.6" text-anchor="end">1.2</text>
<line x1="96.2" y1="911.88" x2="102.7" y2="911.88" stroke-width="1.6" stroke="#363636"/>
<text stroke="#000" stroke-width="0.25" transform="translate(84.4,920.29) scale(1.000,1.070)" font-size="23.6" text-anchor="end">1.6</text>
<line x1="96.2" y1="866.6" x2="102.7" y2="866.6" stroke-width="1.6" stroke="#363636"/>
<text stroke="#000" stroke-width="0.25" transform="translate(84.4,875.01) scale(1.000,1.070)" font-size="23.6" text-anchor="end">2.0</text>
<line x1="96.2" y1="821.32" x2="102.7" y2="821.32" stroke-width="1.6" stroke="#363636"/>
<text stroke="#000" stroke-width="0.25" transform="translate(84.4,829.73) scale(1.000,1.070)" font-size="23.6" text-anchor="end">2.4</text>
<line x1="96.2" y1="776.04" x2="102.7" y2="776.04" stroke-width="1.6" stroke="#363636"/>
<text stroke="#000" stroke-width="0.25" transform="translate(84.4,784.45) scale(1.000,1.070)" font-size="23.6" text-anchor="end">2.8</text>
<line x1="96.5" y1="1093" x2="1225" y2="1093" stroke-width="1.6" stroke="#363636"/>
<line x1="119.8" y1="1093" x2="119.8" y2="1099" stroke-width="1.6" stroke="#363636"/>
<text stroke="#000" stroke-width="0.25" transform="translate(119.8,1132.4) scale(1.000,1.070)" font-size="23.6" text-anchor="middle">0</text>
<line x1="154.14" y1="1093" x2="154.14" y2="1099" stroke-width="1.6" stroke="#363636"/>
<text stroke="#000" stroke-width="0.25" transform="translate(154.14,1132.4) scale(1.000,1.070)" font-size="23.6" text-anchor="middle">4</text>
<line x1="188.48" y1="1093" x2="188.48" y2="1099" stroke-width="1.6" stroke="#363636"/>
<text stroke="#000" stroke-width="0.25" transform="translate(188.48,1132.4) scale(1.000,1.070)" font-size="23.6" text-anchor="middle">8</text>
<line x1="222.82" y1="1093" x2="222.82" y2="1099" stroke-width="1.6" stroke="#363636"/>
<text stroke="#000" stroke-width="0.25" transform="translate(222.82,1132.4) scale(1.000,1.070)" font-size="23.6" text-anchor="middle">12</text>
<line x1="257.16" y1="1093" x2="257.16" y2="1099" stroke-width="1.6" stroke="#363636"/>
<text stroke="#000" stroke-width="0.25" transform="translate(257.16,1132.4) scale(1.000,1.070)" font-size="23.6" text-anchor="middle">16</text>
<line x1="291.5" y1="1093" x2="291.5" y2="1099" stroke-width="1.6" stroke="#363636"/>
<text stroke="#000" stroke-width="0.25" transform="translate(291.5,1132.4) scale(1.000,1.070)" font-size="23.6" text-anchor="middle">20</text>
<line x1="325.84" y1="1093" x2="325.84" y2="1099" stroke-width="1.6" stroke="#363636"/>
<text stroke="#000" stroke-width="0.25" transform="translate(325.84,1132.4) scale(1.000,1.070)" font-size="23.6" text-anchor="middle">24</text>
<line x1="360.18" y1="1093" x2="360.18" y2="1099" stroke-width="1.6" stroke="#363636"/>
<text stroke="#000" stroke-width="0.25" transform="translate(360.18,1132.4) scale(1.000,1.070)" font-size="23.6" text-anchor="middle">28</text>
<line x1="394.52" y1="1093" x2="394.52" y2="1099" stroke-width="1.6" stroke="#363636"/>
<text stroke="#000" stroke-width="0.25" transform="translate(394.52,1132.4) scale(1.000,1.070)" font-size="23.6" text-anchor="middle">32</text>
<line x1="428.86" y1="1093" x2="428.86" y2="1099" stroke-width="1.6" stroke="#363636"/>
<text stroke="#000" stroke-width="0.25" transform="translate(428.86,1132.4) scale(1.000,1.070)" font-size="23.6" text-anchor="middle">36</text>
<line x1="463.2" y1="1093" x2="463.2" y2="1099" stroke-width="1.6" stroke="#363636"/>
<text stroke="#000" stroke-width="0.25" transform="translate(463.2,1132.4) scale(1.000,1.070)" font-size="23.6" text-anchor="middle">40</text>
<line x1="497.54" y1="1093" x2="497.54" y2="1099" stroke-width="1.6" stroke="#363636"/>
<text stroke="#000" stroke-width="0.25" transform="translate(497.54,1132.4) scale(1.000,1.070)" font-size="23.6" text-anchor="middle">44</text>
<line x1="531.88" y1="1093" x2="531.88" y2="1099" stroke-width="1.6" stroke="#363636"/>
<text stroke="#000" stroke-width="0.25" transform="translate(531.88,1132.4) scale(1.000,1.070)" font-size="23.6" text-anchor="middle">48</text>
<line x1="566.22" y1="1093" x2="566.22" y2="1099" stroke-width="1.6" stroke="#363636"/>
<text stroke="#000" stroke-width="0.25" transform="translate(566.22,1132.4) scale(1.000,1.070)" font-size="23.6" text-anchor="middle">52</text>
<line x1="600.56" y1="1093" x2="600.56" y2="1099" stroke-width="1.6" stroke="#363636"/>
<text stroke="#000" stroke-width="0.25" transform="translate(600.56,1132.4) scale(1.000,1.070)" font-size="23.6" text-anchor="middle">56</text>
<line x1="634.9" y1="1093" x2="634.9" y2="1099" stroke-width="1.6" stroke="#363636"/>
<text stroke="#000" stroke-width="0.25" transform="translate(634.9,1132.4) scale(1.000,1.070)" font-size="23.6" text-anchor="middle">60</text>
<line x1="669" y1="1093" x2="669" y2="1099" stroke-width="1.6" stroke="#363636"/>
<text stroke="#000" stroke-width="0.25" transform="translate(669,1132.4) scale(1.000,1.070)" font-size="23.6" text-anchor="middle">0</text>
<line x1="704.88" y1="1093" x2="704.88" y2="1099" stroke-width="1.6" stroke="#363636"/>
<text stroke="#000" stroke-width="0.25" transform="translate(704.88,1132.4) scale(1.000,1.070)" font-size="23.6" text-anchor="middle">4</text>
<line x1="740.76" y1="1093" x2="740.76" y2="1099" stroke-width="1.6" stroke="#363636"/>
<text stroke="#000" stroke-width="0.25" transform="translate(740.76,1132.4) scale(1.000,1.070)" font-size="23.6" text-anchor="middle">8</text>
<line x1="776.64" y1="1093" x2="776.64" y2="1099" stroke-width="1.6" stroke="#363636"/>
<text stroke="#000" stroke-width="0.25" transform="translate(776.64,1132.4) scale(1.000,1.070)" font-size="23.6" text-anchor="middle">12</text>
<line x1="812.52" y1="1093" x2="812.52" y2="1099" stroke-width="1.6" stroke="#363636"/>
<text stroke="#000" stroke-width="0.25" transform="translate(812.52,1132.4) scale(1.000,1.070)" font-size="23.6" text-anchor="middle">16</text>
<line x1="848.4" y1="1093" x2="848.4" y2="1099" stroke-width="1.6" stroke="#363636"/>
<text stroke="#000" stroke-width="0.25" transform="translate(848.4,1132.4) scale(1.000,1.070)" font-size="23.6" text-anchor="middle">20</text>
<line x1="884.28" y1="1093" x2="884.28" y2="1099" stroke-width="1.6" stroke="#363636"/>
<text stroke="#000" stroke-width="0.25" transform="translate(884.28,1132.4) scale(1.000,1.070)" font-size="23.6" text-anchor="middle">24</text>
<line x1="920.16" y1="1093" x2="920.16" y2="1099" stroke-width="1.6" stroke="#363636"/>
<text stroke="#000" stroke-width="0.25" transform="translate(920.16,1132.4) scale(1.000,1.070)" font-size="23.6" text-anchor="middle">28</text>
<line x1="956.04" y1="1093" x2="956.04" y2="1099" stroke-width="1.6" stroke="#363636"/>
<text stroke="#000" stroke-width="0.25" transform="translate(956.04,1132.4) scale(1.000,1.070)" font-size="23.6" text-anchor="middle">32</text>
<line x1="991.92" y1="1093" x2="991.92" y2="1099" stroke-width="1.6" stroke="#363636"/>
<text stroke="#000" stroke-width="0.25" transform="translate(991.92,1132.4) scale(1.000,1.070)" font-size="23.6" text-anchor="middle">36</text>
<line x1="1027.8" y1="1093" x2="1027.8" y2="1099" stroke-width="1.6" stroke="#363636"/>
<text stroke="#000" stroke-width="0.25" transform="translate(1027.8,1132.4) scale(1.000,1.070)" font-size="23.6" text-anchor="middle">40</text>
<line x1="1063.68" y1="1093" x2="1063.68" y2="1099" stroke-width="1.6" stroke="#363636"/>
<text stroke="#000" stroke-width="0.25" transform="translate(1063.68,1132.4) scale(1.000,1.070)" font-size="23.6" text-anchor="middle">44</text>
<line x1="1099.56" y1="1093" x2="1099.56" y2="1099" stroke-width="1.6" stroke="#363636"/>
<text stroke="#000" stroke-width="0.25" transform="translate(1099.56,1132.4) scale(1.000,1.070)" font-size="23.6" text-anchor="middle">48</text>
<line x1="1135.44" y1="1093" x2="1135.44" y2="1099" stroke-width="1.6" stroke="#363636"/>
<text stroke="#000" stroke-width="0.25" transform="translate(1135.44,1132.4) scale(1.000,1.070)" font-size="23.6" text-anchor="middle">52</text>
<line x1="1171.32" y1="1093" x2="1171.32" y2="1099" stroke-width="1.6" stroke="#363636"/>
<text stroke="#000" stroke-width="0.25" transform="translate(1171.32,1132.4) scale(1.000,1.070)" font-size="23.6" text-anchor="middle">56</text>
<line x1="1207.2" y1="1093" x2="1207.2" y2="1099" stroke-width="1.6" stroke="#363636"/>
<text stroke="#000" stroke-width="0.25" transform="translate(1207.2,1132.4) scale(1.000,1.070)" font-size="23.6" text-anchor="middle">60</text>
<text stroke="#000" stroke-width="0.25" transform="translate(21.6,922) rotate(-90) scale(1.000,1.000)" x="0" y="0" font-size="26" text-anchor="middle">NO<tspan font-size="18" dy="9">3</tspan><tspan font-size="18" dy="-23">-</tspan><tspan dy="14">-N (mg/L)</tspan></text>
<polyline fill="none" stroke-width="1.35" points="119.8,1062.44 128.38,1068.1 154.14,1076.02 179.9,1055.64 205.65,1069.23 239.99,1074.89 274.33,1069.23 308.67,1066.96 343.01,1056.78 377.35,1069.23 463.2,1055.64 549.05,1068.1 634.9,1055.64"/>
<circle cx="119.8" cy="1062.44" r="5.8"/>
<circle cx="128.38" cy="1068.1" r="5.8"/>
<circle cx="154.14" cy="1076.02" r="5.8"/>
<circle cx="179.9" cy="1055.64" r="5.8"/>
<circle cx="205.65" cy="1069.23" r="5.8"/>
<circle cx="239.99" cy="1074.89" r="5.8"/>
<circle cx="274.33" cy="1069.23" r="5.8"/>
<circle cx="308.67" cy="1066.96" r="5.8"/>
<circle cx="343.01" cy="1056.78" r="5.8"/>
<circle cx="377.35" cy="1069.23" r="5.8"/>
<circle cx="463.2" cy="1055.64" r="5.8"/>
<circle cx="549.05" cy="1068.1" r="5.8"/>
<circle cx="634.9" cy="1055.64" r="5.8"/>
<polyline fill="none" stroke-width="1.35" points="119.8,862.07 128.38,1065.83 154.14,1062.44 179.9,1070.36 205.65,1074.89 239.99,967.35 274.33,769.25 308.67,799.81 343.01,804.34 377.35,821.32 463.2,860.94 549.05,858.68 634.9,923.2"/>
<line x1="119.8" y1="889.24" x2="119.8" y2="832.64" stroke-width="1.35"/>
<line x1="113.8" y1="889.24" x2="125.8" y2="889.24" stroke-width="1.35"/>
<line x1="113.8" y1="832.64" x2="125.8" y2="832.64" stroke-width="1.35"/>
<line x1="128.38" y1="1070.36" x2="128.38" y2="1053.38" stroke-width="1.35"/>
<line x1="122.38" y1="1070.36" x2="134.38" y2="1070.36" stroke-width="1.35"/>
<line x1="122.38" y1="1053.38" x2="134.38" y2="1053.38" stroke-width="1.35"/>
<line x1="154.14" y1="1070.36" x2="154.14" y2="1049.98" stroke-width="1.35"/>
<line x1="148.14" y1="1070.36" x2="160.14" y2="1070.36" stroke-width="1.35"/>
<line x1="148.14" y1="1049.98" x2="160.14" y2="1049.98" stroke-width="1.35"/>
<line x1="205.65" y1="1079.42" x2="205.65" y2="1062.44" stroke-width="1.35"/>
<line x1="199.65" y1="1079.42" x2="211.65" y2="1079.42" stroke-width="1.35"/>
<line x1="199.65" y1="1062.44" x2="211.65" y2="1062.44" stroke-width="1.35"/>
<line x1="239.99" y1="983.2" x2="239.99" y2="950.37" stroke-width="1.35"/>
<line x1="233.99" y1="983.2" x2="245.99" y2="983.2" stroke-width="1.35"/>
<line x1="233.99" y1="950.37" x2="245.99" y2="950.37" stroke-width="1.35"/>
<line x1="274.33" y1="771.51" x2="274.33" y2="766.98" stroke-width="1.35"/>
<line x1="268.33" y1="771.51" x2="280.33" y2="771.51" stroke-width="1.35"/>
<line x1="268.33" y1="766.98" x2="280.33" y2="766.98" stroke-width="1.35"/>
<line x1="308.67" y1="802.08" x2="308.67" y2="797.55" stroke-width="1.35"/>
<line x1="302.67" y1="802.08" x2="314.67" y2="802.08" stroke-width="1.35"/>
<line x1="302.67" y1="797.55" x2="314.67" y2="797.55" stroke-width="1.35"/>
<line x1="343.01" y1="808.87" x2="343.01" y2="798.68" stroke-width="1.35"/>
<line x1="337.01" y1="808.87" x2="349.01" y2="808.87" stroke-width="1.35"/>
<line x1="337.01" y1="798.68" x2="349.01" y2="798.68" stroke-width="1.35"/>
<line x1="549.05" y1="870" x2="549.05" y2="841.7" stroke-width="1.35"/>
<line x1="543.05" y1="870" x2="555.05" y2="870" stroke-width="1.35"/>
<line x1="543.05" y1="841.7" x2="555.05" y2="841.7" stroke-width="1.35"/>
<line x1="634.9" y1="925.46" x2="634.9" y2="920.94" stroke-width="1.35"/>
<line x1="628.9" y1="925.46" x2="640.9" y2="925.46" stroke-width="1.35"/>
<line x1="628.9" y1="920.94" x2="640.9" y2="920.94" stroke-width="1.35"/>
<path d="M113.54 856.96H126.06L119.8 868.32Z"/>
<path d="M122.12 1060.72H134.65L128.38 1072.08Z"/>
<path d="M147.88 1057.32H160.4L154.14 1068.69Z"/>
<path d="M173.63 1065.24H186.16L179.9 1076.61Z"/>
<path d="M199.39 1069.77H211.91L205.65 1081.14Z"/>
<path d="M233.73 962.23H246.25L239.99 973.6Z"/>
<path d="M268.07 764.13H280.59L274.33 775.5Z"/>
<path d="M302.41 794.7H314.93L308.67 806.06Z"/>
<path d="M336.75 799.22H349.27L343.01 810.59Z"/>
<path d="M371.09 816.2H383.61L377.35 827.57Z"/>
<path d="M456.94 855.82H469.46L463.2 867.19Z"/>
<path d="M542.79 853.56H555.31L549.05 864.93Z"/>
<path d="M628.64 918.08H641.16L634.9 929.45Z"/>
<polyline fill="none" stroke-width="1.35" points="119.8,1034.14 128.38,1072.62 154.14,1080.55 179.9,1070.36 205.65,1076.02 239.99,1063.57 274.33,1069.23 308.67,1070.36 343.01,1065.83 377.35,1063.57 463.2,1057.91 549.05,1061.3 634.9,1062.44"/>
<rect x="114.29" y="1028.63" width="11.02" height="11.02"/>
<rect x="122.87" y="1067.11" width="11.02" height="11.02"/>
<rect x="148.63" y="1075.04" width="11.02" height="11.02"/>
<rect x="174.39" y="1064.85" width="11.02" height="11.02"/>
<rect x="200.14" y="1070.51" width="11.02" height="11.02"/>
<rect x="234.48" y="1058.06" width="11.02" height="11.02"/>
<rect x="268.82" y="1063.72" width="11.02" height="11.02"/>
<rect x="303.16" y="1064.85" width="11.02" height="11.02"/>
<rect x="337.5" y="1060.32" width="11.02" height="11.02"/>
<rect x="371.84" y="1058.06" width="11.02" height="11.02"/>
<rect x="457.69" y="1052.4" width="11.02" height="11.02"/>
<rect x="543.54" y="1055.79" width="11.02" height="11.02"/>
<rect x="629.39" y="1056.93" width="11.02" height="11.02"/>
<polyline fill="none" stroke-width="1.35" points="669,1062.44 677.97,1079.42 704.88,1078.28 731.79,1080.55 758.7,1070.36 794.58,1061.3 830.46,1062.44 866.34,1074.89 902.22,1077.15 938.1,1077.15 1027.8,1004.7 1117.5,1011.5 1207.2,1063.57"/>
<circle cx="669" cy="1062.44" r="5.8"/>
<circle cx="677.97" cy="1079.42" r="5.8"/>
<circle cx="704.88" cy="1078.28" r="5.8"/>
<circle cx="731.79" cy="1080.55" r="5.8"/>
<circle cx="758.7" cy="1070.36" r="5.8"/>
<circle cx="794.58" cy="1061.3" r="5.8"/>
<circle cx="830.46" cy="1062.44" r="5.8"/>
<circle cx="866.34" cy="1074.89" r="5.8"/>
<circle cx="902.22" cy="1077.15" r="5.8"/>
<circle cx="938.1" cy="1077.15" r="5.8"/>
<circle cx="1027.8" cy="1004.7" r="5.8"/>
<circle cx="1117.5" cy="1011.5" r="5.8"/>
<circle cx="1207.2" cy="1063.57" r="5.8"/>
<polyline fill="none" stroke-width="1.35" points="669,860.94 677.97,1052.25 704.88,1059.04 731.79,1065.83 758.7,1064.7 794.58,1048.85 830.46,1054.51 866.34,1062.44 902.22,1053.38 938.1,1078.28 1027.8,1018.29 1117.5,1022.82 1207.2,1070.36"/>
<line x1="669" y1="889.24" x2="669" y2="831.51" stroke-width="1.35"/>
<line x1="663" y1="889.24" x2="675" y2="889.24" stroke-width="1.35"/>
<line x1="663" y1="831.51" x2="675" y2="831.51" stroke-width="1.35"/>
<line x1="731.79" y1="1070.36" x2="731.79" y2="1057.91" stroke-width="1.35"/>
<line x1="725.79" y1="1070.36" x2="737.79" y2="1070.36" stroke-width="1.35"/>
<line x1="725.79" y1="1057.91" x2="737.79" y2="1057.91" stroke-width="1.35"/>
<path d="M662.74 855.82H675.26L669 867.19Z"/>
<path d="M671.71 1047.13H684.23L677.97 1058.5Z"/>
<path d="M698.62 1053.92H711.14L704.88 1065.29Z"/>
<path d="M725.53 1060.72H738.05L731.79 1072.08Z"/>
<path d="M752.44 1059.58H764.96L758.7 1070.95Z"/>
<path d="M788.32 1043.74H800.84L794.58 1055.1Z"/>
<path d="M824.2 1049.4H836.72L830.46 1060.76Z"/>
<path d="M860.08 1057.32H872.6L866.34 1068.69Z"/>
<path d="M895.96 1048.26H908.48L902.22 1059.63Z"/>
<path d="M931.84 1073.17H944.36L938.1 1084.54Z"/>
<path d="M1021.54 1013.17H1034.06L1027.8 1024.54Z"/>
<path d="M1111.24 1017.7H1123.76L1117.5 1029.07Z"/>
<path d="M1200.94 1065.24H1213.46L1207.2 1076.61Z"/>
<polyline fill="none" stroke-width="1.35" points="669,1034.14 677.97,1062.44 704.88,1072.62 731.79,1074.89 758.7,1064.7 794.58,1048.85 830.46,1065.83 866.34,1062.44 902.22,1053.38 938.1,1068.1 1027.8,1030.74 1117.5,1034.14 1207.2,1065.83"/>
<line x1="677.97" y1="1090.74" x2="677.97" y2="1031.87" stroke-width="1.35"/>
<line x1="671.97" y1="1090.74" x2="683.97" y2="1090.74" stroke-width="1.35"/>
<line x1="671.97" y1="1031.87" x2="683.97" y2="1031.87" stroke-width="1.35"/>
<rect x="663.49" y="1028.63" width="11.02" height="11.02"/>
<rect x="672.46" y="1056.93" width="11.02" height="11.02"/>
<rect x="699.37" y="1067.11" width="11.02" height="11.02"/>
<rect x="726.28" y="1069.38" width="11.02" height="11.02"/>
<rect x="753.19" y="1059.19" width="11.02" height="11.02"/>
<rect x="789.07" y="1043.34" width="11.02" height="11.02"/>
<rect x="824.95" y="1060.32" width="11.02" height="11.02"/>
<rect x="860.83" y="1056.93" width="11.02" height="11.02"/>
<rect x="896.71" y="1047.87" width="11.02" height="11.02"/>
<rect x="932.59" y="1062.59" width="11.02" height="11.02"/>
<rect x="1022.29" y="1025.23" width="11.02" height="11.02"/>
<rect x="1111.99" y="1028.63" width="11.02" height="11.02"/>
<rect x="1201.69" y="1060.32" width="11.02" height="11.02"/>
<line x1="106.3" y1="1147" x2="106.3" y2="1492.4" stroke-width="1.6" stroke="#363636"/>
<line x1="99.8" y1="1483" x2="106.3" y2="1483" stroke-width="1.6" stroke="#363636"/>
<text stroke="#000" stroke-width="0.25" transform="translate(86.8,1491.57) scale(1.000,1.100)" font-size="23.4" text-anchor="end">0</text>
<line x1="99.8" y1="1435" x2="106.3" y2="1435" stroke-width="1.6" stroke="#363636"/>
<text stroke="#000" stroke-width="0.25" transform="translate(86.8,1443.57) scale(1.000,1.100)" font-size="23.4" text-anchor="end">1</text>
<line x1="99.8" y1="1387" x2="106.3" y2="1387" stroke-width="1.6" stroke="#363636"/>
<text stroke="#000" stroke-width="0.25" transform="translate(86.8,1395.57) scale(1.000,1.100)" font-size="23.4" text-anchor="end">2</text>
<line x1="99.8" y1="1339" x2="106.3" y2="1339" stroke-width="1.6" stroke="#363636"/>
<text stroke="#000" stroke-width="0.25" transform="translate(86.8,1347.57) scale(1.000,1.100)" font-size="23.4" text-anchor="end">3</text>
<line x1="99.8" y1="1291" x2="106.3" y2="1291" stroke-width="1.6" stroke="#363636"/>
<text stroke="#000" stroke-width="0.25" transform="translate(86.8,1299.57) scale(1.000,1.100)" font-size="23.4" text-anchor="end">4</text>
<line x1="99.8" y1="1243" x2="106.3" y2="1243" stroke-width="1.6" stroke="#363636"/>
<text stroke="#000" stroke-width="0.25" transform="translate(86.8,1251.57) scale(1.000,1.100)" font-size="23.4" text-anchor="end">5</text>
<line x1="99.8" y1="1195" x2="106.3" y2="1195" stroke-width="1.6" stroke="#363636"/>
<text stroke="#000" stroke-width="0.25" transform="translate(86.8,1203.57) scale(1.000,1.100)" font-size="23.4" text-anchor="end">6</text>
<line x1="99.8" y1="1147" x2="106.3" y2="1147" stroke-width="1.6" stroke="#363636"/>
<text stroke="#000" stroke-width="0.25" transform="translate(86.8,1155.57) scale(1.000,1.100)" font-size="23.4" text-anchor="end">7</text>
<line x1="654" y1="1146.4" x2="654" y2="1492.4" stroke-width="1.6" stroke="#363636"/>
<line x1="647.5" y1="1472.4" x2="654" y2="1472.4" stroke-width="1.6" stroke="#363636"/>
<text stroke="#000" stroke-width="0.25" transform="translate(634.6,1481.11) scale(1.000,1.090)" font-size="24" text-anchor="end">0.0</text>
<line x1="647.5" y1="1431.55" x2="654" y2="1431.55" stroke-width="1.6" stroke="#363636"/>
<text stroke="#000" stroke-width="0.25" transform="translate(634.6,1440.26) scale(1.000,1.090)" font-size="24" text-anchor="end">0.1</text>
<line x1="647.5" y1="1390.7" x2="654" y2="1390.7" stroke-width="1.6" stroke="#363636"/>
<text stroke="#000" stroke-width="0.25" transform="translate(634.6,1399.41) scale(1.000,1.090)" font-size="24" text-anchor="end">0.2</text>
<line x1="647.5" y1="1349.85" x2="654" y2="1349.85" stroke-width="1.6" stroke="#363636"/>
<text stroke="#000" stroke-width="0.25" transform="translate(634.6,1358.56) scale(1.000,1.090)" font-size="24" text-anchor="end">0.3</text>
<line x1="647.5" y1="1309" x2="654" y2="1309" stroke-width="1.6" stroke="#363636"/>
<text stroke="#000" stroke-width="0.25" transform="translate(634.6,1317.71) scale(1.000,1.090)" font-size="24" text-anchor="end">0.4</text>
<line x1="647.5" y1="1268.15" x2="654" y2="1268.15" stroke-width="1.6" stroke="#363636"/>
<text stroke="#000" stroke-width="0.25" transform="translate(634.6,1276.86) scale(1.000,1.090)" font-size="24" text-anchor="end">0.5</text>
<line x1="647.5" y1="1227.3" x2="654" y2="1227.3" stroke-width="1.6" stroke="#363636"/>
<text stroke="#000" stroke-width="0.25" transform="translate(634.6,1236.01) scale(1.000,1.090)" font-size="24" text-anchor="end">0.6</text>
<line x1="647.5" y1="1186.45" x2="654" y2="1186.45" stroke-width="1.6" stroke="#363636"/>
<text stroke="#000" stroke-width="0.25" transform="translate(634.6,1195.16) scale(1.000,1.090)" font-size="24" text-anchor="end">0.7</text>
<text stroke="#000" stroke-width="0.25" transform="translate(634.6,1154.71) scale(1.000,1.090)" font-size="24" text-anchor="end">0.8</text>
<line x1="106.4" y1="1492.4" x2="1229.2" y2="1492.4" stroke-width="1.6" stroke="#363636"/>
<line x1="123" y1="1492.4" x2="123" y2="1498.4" stroke-width="1.6" stroke="#363636"/>
<text stroke="#000" stroke-width="0.25" transform="translate(123,1533.8) scale(1.000,1.080)" font-size="23.8" text-anchor="middle">0</text>
<line x1="157.24" y1="1492.4" x2="157.24" y2="1498.4" stroke-width="1.6" stroke="#363636"/>
<text stroke="#000" stroke-width="0.25" transform="translate(157.24,1533.8) scale(1.000,1.080)" font-size="23.8" text-anchor="middle">4</text>
<line x1="191.48" y1="1492.4" x2="191.48" y2="1498.4" stroke-width="1.6" stroke="#363636"/>
<text stroke="#000" stroke-width="0.25" transform="translate(191.48,1533.8) scale(1.000,1.080)" font-size="23.8" text-anchor="middle">8</text>
<line x1="225.72" y1="1492.4" x2="225.72" y2="1498.4" stroke-width="1.6" stroke="#363636"/>
<text stroke="#000" stroke-width="0.25" transform="translate(225.72,1533.8) scale(1.000,1.080)" font-size="23.8" text-anchor="middle">12</text>
<line x1="259.96" y1="1492.4" x2="259.96" y2="1498.4" stroke-width="1.6" stroke="#363636"/>
<text stroke="#000" stroke-width="0.25" transform="translate(259.96,1533.8) scale(1.000,1.080)" font-size="23.8" text-anchor="middle">16</text>
<line x1="294.2" y1="1492.4" x2="294.2" y2="1498.4" stroke-width="1.6" stroke="#363636"/>
<text stroke="#000" stroke-width="0.25" transform="translate(294.2,1533.8) scale(1.000,1.080)" font-size="23.8" text-anchor="middle">20</text>
<line x1="328.44" y1="1492.4" x2="328.44" y2="1498.4" stroke-width="1.6" stroke="#363636"/>
<text stroke="#000" stroke-width="0.25" transform="translate(328.44,1533.8) scale(1.000,1.080)" font-size="23.8" text-anchor="middle">24</text>
<line x1="362.68" y1="1492.4" x2="362.68" y2="1498.4" stroke-width="1.6" stroke="#363636"/>
<text stroke="#000" stroke-width="0.25" transform="translate(362.68,1533.8) scale(1.000,1.080)" font-size="23.8" text-anchor="middle">28</text>
<line x1="396.92" y1="1492.4" x2="396.92" y2="1498.4" stroke-width="1.6" stroke="#363636"/>
<text stroke="#000" stroke-width="0.25" transform="translate(396.92,1533.8) scale(1.000,1.080)" font-size="23.8" text-anchor="middle">32</text>
<line x1="431.16" y1="1492.4" x2="431.16" y2="1498.4" stroke-width="1.6" stroke="#363636"/>
<text stroke="#000" stroke-width="0.25" transform="translate(431.16,1533.8) scale(1.000,1.080)" font-size="23.8" text-anchor="middle">36</text>
<line x1="465.4" y1="1492.4" x2="465.4" y2="1498.4" stroke-width="1.6" stroke="#363636"/>
<text stroke="#000" stroke-width="0.25" transform="translate(465.4,1533.8) scale(1.000,1.080)" font-size="23.8" text-anchor="middle">40</text>
<line x1="499.64" y1="1492.4" x2="499.64" y2="1498.4" stroke-width="1.6" stroke="#363636"/>
<text stroke="#000" stroke-width="0.25" transform="translate(499.64,1533.8) scale(1.000,1.080)" font-size="23.8" text-anchor="middle">44</text>
<line x1="533.88" y1="1492.4" x2="533.88" y2="1498.4" stroke-width="1.6" stroke="#363636"/>
<text stroke="#000" stroke-width="0.25" transform="translate(533.88,1533.8) scale(1.000,1.080)" font-size="23.8" text-anchor="middle">48</text>
<line x1="568.12" y1="1492.4" x2="568.12" y2="1498.4" stroke-width="1.6" stroke="#363636"/>
<text stroke="#000" stroke-width="0.25" transform="translate(568.12,1533.8) scale(1.000,1.080)" font-size="23.8" text-anchor="middle">52</text>
<line x1="602.36" y1="1492.4" x2="602.36" y2="1498.4" stroke-width="1.6" stroke="#363636"/>
<text stroke="#000" stroke-width="0.25" transform="translate(602.36,1533.8) scale(1.000,1.080)" font-size="23.8" text-anchor="middle">56</text>
<line x1="636.6" y1="1492.4" x2="636.6" y2="1498.4" stroke-width="1.6" stroke="#363636"/>
<text stroke="#000" stroke-width="0.25" transform="translate(636.6,1533.8) scale(1.000,1.080)" font-size="23.8" text-anchor="middle">60</text>
<line x1="671.6" y1="1492.4" x2="671.6" y2="1498.4" stroke-width="1.6" stroke="#363636"/>
<text stroke="#000" stroke-width="0.25" transform="translate(671.6,1533.8) scale(1.000,1.080)" font-size="23.8" text-anchor="middle">0</text>
<line x1="707.56" y1="1492.4" x2="707.56" y2="1498.4" stroke-width="1.6" stroke="#363636"/>
<text stroke="#000" stroke-width="0.25" transform="translate(707.56,1533.8) scale(1.000,1.080)" font-size="23.8" text-anchor="middle">4</text>
<line x1="743.52" y1="1492.4" x2="743.52" y2="1498.4" stroke-width="1.6" stroke="#363636"/>
<text stroke="#000" stroke-width="0.25" transform="translate(743.52,1533.8) scale(1.000,1.080)" font-size="23.8" text-anchor="middle">8</text>
<line x1="779.48" y1="1492.4" x2="779.48" y2="1498.4" stroke-width="1.6" stroke="#363636"/>
<text stroke="#000" stroke-width="0.25" transform="translate(779.48,1533.8) scale(1.000,1.080)" font-size="23.8" text-anchor="middle">12</text>
<line x1="815.44" y1="1492.4" x2="815.44" y2="1498.4" stroke-width="1.6" stroke="#363636"/>
<text stroke="#000" stroke-width="0.25" transform="translate(815.44,1533.8) scale(1.000,1.080)" font-size="23.8" text-anchor="middle">16</text>
<line x1="851.4" y1="1492.4" x2="851.4" y2="1498.4" stroke-width="1.6" stroke="#363636"/>
<text stroke="#000" stroke-width="0.25" transform="translate(851.4,1533.8) scale(1.000,1.080)" font-size="23.8" text-anchor="middle">20</text>
<line x1="887.36" y1="1492.4" x2="887.36" y2="1498.4" stroke-width="1.6" stroke="#363636"/>
<text stroke="#000" stroke-width="0.25" transform="translate(887.36,1533.8) scale(1.000,1.080)" font-size="23.8" text-anchor="middle">24</text>
<line x1="923.32" y1="1492.4" x2="923.32" y2="1498.4" stroke-width="1.6" stroke="#363636"/>
<text stroke="#000" stroke-width="0.25" transform="translate(923.32,1533.8) scale(1.000,1.080)" font-size="23.8" text-anchor="middle">28</text>
<line x1="959.28" y1="1492.4" x2="959.28" y2="1498.4" stroke-width="1.6" stroke="#363636"/>
<text stroke="#000" stroke-width="0.25" transform="translate(959.28,1533.8) scale(1.000,1.080)" font-size="23.8" text-anchor="middle">32</text>
<line x1="995.24" y1="1492.4" x2="995.24" y2="1498.4" stroke-width="1.6" stroke="#363636"/>
<text stroke="#000" stroke-width="0.25" transform="translate(995.24,1533.8) scale(1.000,1.080)" font-size="23.8" text-anchor="middle">36</text>
<line x1="1031.2" y1="1492.4" x2="1031.2" y2="1498.4" stroke-width="1.6" stroke="#363636"/>
<text stroke="#000" stroke-width="0.25" transform="translate(1031.2,1533.8) scale(1.000,1.080)" font-size="23.8" text-anchor="middle">40</text>
<line x1="1067.16" y1="1492.4" x2="1067.16" y2="1498.4" stroke-width="1.6" stroke="#363636"/>
<text stroke="#000" stroke-width="0.25" transform="translate(1067.16,1533.8) scale(1.000,1.080)" font-size="23.8" text-anchor="middle">44</text>
<line x1="1103.12" y1="1492.4" x2="1103.12" y2="1498.4" stroke-width="1.6" stroke="#363636"/>
<text stroke="#000" stroke-width="0.25" transform="translate(1103.12,1533.8) scale(1.000,1.080)" font-size="23.8" text-anchor="middle">48</text>
<line x1="1139.08" y1="1492.4" x2="1139.08" y2="1498.4" stroke-width="1.6" stroke="#363636"/>
<text stroke="#000" stroke-width="0.25" transform="translate(1139.08,1533.8) scale(1.000,1.080)" font-size="23.8" text-anchor="middle">52</text>
<line x1="1175.04" y1="1492.4" x2="1175.04" y2="1498.4" stroke-width="1.6" stroke="#363636"/>
<text stroke="#000" stroke-width="0.25" transform="translate(1175.04,1533.8) scale(1.000,1.080)" font-size="23.8" text-anchor="middle">56</text>
<line x1="1211" y1="1492.4" x2="1211" y2="1498.4" stroke-width="1.6" stroke="#363636"/>
<text stroke="#000" stroke-width="0.25" transform="translate(1211,1533.8) scale(1.000,1.080)" font-size="23.8" text-anchor="middle">60</text>
<text stroke="#000" stroke-width="0.25" transform="translate(39.4,1320.2) rotate(-90) scale(1.050,1.000)" x="0" y="0" font-size="26" text-anchor="middle">NO<tspan font-size="18" dy="9">2</tspan><tspan font-size="18" dy="-23">-</tspan><tspan dy="14">-N (mg/L)</tspan></text>
<polyline fill="none" stroke-width="1.35" points="123,1481.08 131.56,1483 157.24,1483 182.92,1483 208.6,1483 242.84,1483 277.08,1483 311.32,1483 345.56,1483 379.8,1483 465.4,1483 551,1483 636.6,1483"/>
<circle cx="123" cy="1481.08" r="5.8"/>
<circle cx="131.56" cy="1483" r="5.8"/>
<circle cx="157.24" cy="1483" r="5.8"/>
<circle cx="182.92" cy="1483" r="5.8"/>
<circle cx="208.6" cy="1483" r="5.8"/>
<circle cx="242.84" cy="1483" r="5.8"/>
<circle cx="277.08" cy="1483" r="5.8"/>
<circle cx="311.32" cy="1483" r="5.8"/>
<circle cx="345.56" cy="1483" r="5.8"/>
<circle cx="379.8" cy="1483" r="5.8"/>
<circle cx="465.4" cy="1483" r="5.8"/>
<circle cx="551" cy="1483" r="5.8"/>
<circle cx="636.6" cy="1483" r="5.8"/>
<polyline fill="none" stroke-width="1.35" points="123,1483 131.56,1482.04 157.24,1465.24 182.92,1362.04 208.6,1172.92 242.84,1295.8 277.08,1464.76 311.32,1482.04 345.56,1481.56 379.8,1482.04 465.4,1482.04 551,1482.04 636.6,1480.6"/>
<line x1="182.92" y1="1365.4" x2="182.92" y2="1358.2" stroke-width="1.35"/>
<line x1="176.92" y1="1365.4" x2="188.92" y2="1365.4" stroke-width="1.35"/>
<line x1="176.92" y1="1358.2" x2="188.92" y2="1358.2" stroke-width="1.35"/>
<line x1="208.6" y1="1176.76" x2="208.6" y2="1168.6" stroke-width="1.35"/>
<line x1="202.6" y1="1176.76" x2="214.6" y2="1176.76" stroke-width="1.35"/>
<line x1="202.6" y1="1168.6" x2="214.6" y2="1168.6" stroke-width="1.35"/>
<line x1="242.84" y1="1310.2" x2="242.84" y2="1279" stroke-width="1.35"/>
<line x1="236.84" y1="1310.2" x2="248.84" y2="1310.2" stroke-width="1.35"/>
<line x1="236.84" y1="1279" x2="248.84" y2="1279" stroke-width="1.35"/>
<path d="M116.74 1477.88H129.26L123 1489.25Z"/>
<path d="M125.3 1476.92H137.82L131.56 1488.29Z"/>
<path d="M150.98 1460.12H163.5L157.24 1471.49Z"/>
<path d="M176.66 1356.92H189.18L182.92 1368.29Z"/>
<path d="M202.34 1167.8H214.86L208.6 1179.17Z"/>
<path d="M236.58 1290.68H249.1L242.84 1302.05Z"/>
<path d="M270.82 1459.64H283.34L277.08 1471.01Z"/>
<path d="M305.06 1476.92H317.58L311.32 1488.29Z"/>
<path d="M339.3 1476.44H351.82L345.56 1487.81Z"/>
<path d="M373.54 1476.92H386.06L379.8 1488.29Z"/>
<path d="M459.14 1476.92H471.66L465.4 1488.29Z"/>
<path d="M544.74 1476.92H557.26L551 1488.29Z"/>
<path d="M630.34 1475.48H642.86L636.6 1486.85Z"/>
<polyline fill="none" stroke-width="1.35" points="123,1479.16 131.56,1480.12 157.24,1483 182.92,1483 208.6,1480.12 242.84,1468.12 277.08,1483 311.32,1482.04 345.56,1481.56 379.8,1467.64 465.4,1482.04 551,1482.04 636.6,1480.12"/>
<rect x="117.49" y="1473.65" width="11.02" height="11.02"/>
<rect x="126.05" y="1474.61" width="11.02" height="11.02"/>
<rect x="151.73" y="1477.49" width="11.02" height="11.02"/>
<rect x="177.41" y="1477.49" width="11.02" height="11.02"/>
<rect x="203.09" y="1474.61" width="11.02" height="11.02"/>
<rect x="237.33" y="1462.61" width="11.02" height="11.02"/>
<rect x="271.57" y="1477.49" width="11.02" height="11.02"/>
<rect x="305.81" y="1476.53" width="11.02" height="11.02"/>
<rect x="340.05" y="1476.05" width="11.02" height="11.02"/>
<rect x="374.29" y="1462.13" width="11.02" height="11.02"/>
<rect x="459.89" y="1476.53" width="11.02" height="11.02"/>
<rect x="545.49" y="1476.53" width="11.02" height="11.02"/>
<rect x="631.09" y="1474.61" width="11.02" height="11.02"/>
<polyline fill="none" stroke-width="1.35" points="671.6,1449.12 680.59,1458.1 707.56,1471.58 734.53,1472.4 761.5,1447.07 797.46,1454.02 833.42,1468.32 869.38,1468.32 905.34,1466.27 941.3,1472.4 1031.2,1467.09 1121.1,1471.17 1211,1472.4"/>
<circle cx="671.6" cy="1449.12" r="5.8"/>
<circle cx="680.59" cy="1458.1" r="5.8"/>
<circle cx="707.56" cy="1471.58" r="5.8"/>
<circle cx="734.53" cy="1472.4" r="5.8"/>
<circle cx="761.5" cy="1447.07" r="5.8"/>
<circle cx="797.46" cy="1454.02" r="5.8"/>
<circle cx="833.42" cy="1468.32" r="5.8"/>
<circle cx="869.38" cy="1468.32" r="5.8"/>
<circle cx="905.34" cy="1466.27" r="5.8"/>
<circle cx="941.3" cy="1472.4" r="5.8"/>
<circle cx="1031.2" cy="1467.09" r="5.8"/>
<circle cx="1121.1" cy="1471.17" r="5.8"/>
<circle cx="1211" cy="1472.4" r="5.8"/>
<polyline fill="none" stroke-width="1.35" points="671.6,1469.13 680.59,1468.32 707.56,1179.51 734.53,1337.6 761.5,1381.71 797.46,1438.09 833.42,1468.32 869.38,1469.13 905.34,1469.13 941.3,1472.4 1031.2,1470.36 1121.1,1471.17 1211,1472.4"/>
<line x1="707.56" y1="1182.37" x2="707.56" y2="1176.24" stroke-width="1.35"/>
<line x1="701.56" y1="1182.37" x2="713.56" y2="1182.37" stroke-width="1.35"/>
<line x1="701.56" y1="1176.24" x2="713.56" y2="1176.24" stroke-width="1.35"/>
<line x1="734.53" y1="1341.68" x2="734.53" y2="1333.51" stroke-width="1.35"/>
<line x1="728.53" y1="1341.68" x2="740.53" y2="1341.68" stroke-width="1.35"/>
<line x1="728.53" y1="1333.51" x2="740.53" y2="1333.51" stroke-width="1.35"/>
<line x1="761.5" y1="1384.57" x2="761.5" y2="1378.45" stroke-width="1.35"/>
<line x1="755.5" y1="1384.57" x2="767.5" y2="1384.57" stroke-width="1.35"/>
<line x1="755.5" y1="1378.45" x2="767.5" y2="1378.45" stroke-width="1.35"/>
<path d="M665.34 1464.02H677.86L671.6 1475.38Z"/>
<path d="M674.33 1463.2H686.85L680.59 1474.57Z"/>
<path d="M701.3 1174.39H713.82L707.56 1185.76Z"/>
<path d="M728.27 1332.48H740.79L734.53 1343.85Z"/>
<path d="M755.24 1376.6H767.76L761.5 1387.97Z"/>
<path d="M791.2 1432.97H803.72L797.46 1444.34Z"/>
<path d="M827.16 1463.2H839.68L833.42 1474.57Z"/>
<path d="M863.12 1464.02H875.64L869.38 1475.38Z"/>
<path d="M899.08 1464.02H911.6L905.34 1475.38Z"/>
<path d="M935.04 1467.28H947.56L941.3 1478.65Z"/>
<path d="M1024.94 1465.24H1037.46L1031.2 1476.61Z"/>
<path d="M1114.84 1466.06H1127.36L1121.1 1477.43Z"/>
<path d="M1204.74 1467.28H1217.26L1211 1478.65Z"/>
<polyline fill="none" stroke-width="1.35" points="671.6,1438.09 680.59,1472.4 707.56,1438.09 734.53,1429.1 761.5,1427.87 797.46,1438.09 833.42,1463.41 869.38,1460.96 905.34,1458.92 941.3,1467.09 1031.2,1470.36 1121.1,1471.17 1211,1472.4"/>
<rect x="666.09" y="1432.58" width="11.02" height="11.02"/>
<rect x="675.08" y="1466.89" width="11.02" height="11.02"/>
<rect x="702.05" y="1432.58" width="11.02" height="11.02"/>
<rect x="729.02" y="1423.59" width="11.02" height="11.02"/>
<rect x="755.99" y="1422.36" width="11.02" height="11.02"/>
<rect x="791.95" y="1432.58" width="11.02" height="11.02"/>
<rect x="827.91" y="1457.9" width="11.02" height="11.02"/>
<rect x="863.87" y="1455.45" width="11.02" height="11.02"/>
<rect x="899.83" y="1453.41" width="11.02" height="11.02"/>
<rect x="935.79" y="1461.58" width="11.02" height="11.02"/>
<rect x="1025.69" y="1464.85" width="11.02" height="11.02"/>
<rect x="1115.59" y="1465.66" width="11.02" height="11.02"/>
<rect x="1205.49" y="1466.89" width="11.02" height="11.02"/>
<line x1="109.8" y1="1543" x2="109.8" y2="1872.5" stroke-width="1.6" stroke="#363636"/>
<line x1="103.3" y1="1862" x2="109.8" y2="1862" stroke-width="1.6" stroke="#363636"/>
<text stroke="#000" stroke-width="0.25" transform="translate(91,1870.48) scale(1.000,1.070)" font-size="23.8" text-anchor="end">0.0</text>
<line x1="103.3" y1="1819.4" x2="109.8" y2="1819.4" stroke-width="1.6" stroke="#363636"/>
<text stroke="#000" stroke-width="0.25" transform="translate(91,1827.88) scale(1.000,1.070)" font-size="23.8" text-anchor="end">0.4</text>
<line x1="103.3" y1="1776.8" x2="109.8" y2="1776.8" stroke-width="1.6" stroke="#363636"/>
<text stroke="#000" stroke-width="0.25" transform="translate(91,1785.28) scale(1.000,1.070)" font-size="23.8" text-anchor="end">0.8</text>
<line x1="103.3" y1="1734.2" x2="109.8" y2="1734.2" stroke-width="1.6" stroke="#363636"/>
<text stroke="#000" stroke-width="0.25" transform="translate(91,1742.68) scale(1.000,1.070)" font-size="23.8" text-anchor="end">1.2</text>
<line x1="103.3" y1="1691.6" x2="109.8" y2="1691.6" stroke-width="1.6" stroke="#363636"/>
<text stroke="#000" stroke-width="0.25" transform="translate(91,1700.08) scale(1.000,1.070)" font-size="23.8" text-anchor="end">1.6</text>
<line x1="103.3" y1="1649" x2="109.8" y2="1649" stroke-width="1.6" stroke="#363636"/>
<text stroke="#000" stroke-width="0.25" transform="translate(91,1657.48) scale(1.000,1.070)" font-size="23.8" text-anchor="end">2.0</text>
<line x1="103.3" y1="1606.4" x2="109.8" y2="1606.4" stroke-width="1.6" stroke="#363636"/>
<text stroke="#000" stroke-width="0.25" transform="translate(91,1614.88) scale(1.000,1.070)" font-size="23.8" text-anchor="end">2.4</text>
<line x1="103.3" y1="1563.8" x2="109.8" y2="1563.8" stroke-width="1.6" stroke="#363636"/>
<text stroke="#000" stroke-width="0.25" transform="translate(91,1572.28) scale(1.000,1.070)" font-size="23.8" text-anchor="end">2.8</text>
<line x1="656" y1="1536" x2="656" y2="1872.5" stroke-width="1.6" stroke="#363636"/>
<line x1="109.6" y1="1872.5" x2="1236.6" y2="1872.5" stroke-width="1.6" stroke="#363636"/>
<line x1="126" y1="1872.5" x2="126" y2="1878.5" stroke-width="1.6" stroke="#363636"/>
<text stroke="#000" stroke-width="0.25" transform="translate(126,1912.5) scale(1.000,1.070)" font-size="23.8" text-anchor="middle">0</text>
<line x1="160.12" y1="1872.5" x2="160.12" y2="1878.5" stroke-width="1.6" stroke="#363636"/>
<text stroke="#000" stroke-width="0.25" transform="translate(160.12,1912.5) scale(1.000,1.070)" font-size="23.8" text-anchor="middle">4</text>
<line x1="194.24" y1="1872.5" x2="194.24" y2="1878.5" stroke-width="1.6" stroke="#363636"/>
<text stroke="#000" stroke-width="0.25" transform="translate(194.24,1912.5) scale(1.000,1.070)" font-size="23.8" text-anchor="middle">8</text>
<line x1="228.36" y1="1872.5" x2="228.36" y2="1878.5" stroke-width="1.6" stroke="#363636"/>
<text stroke="#000" stroke-width="0.25" transform="translate(228.36,1912.5) scale(1.000,1.070)" font-size="23.8" text-anchor="middle">12</text>
<line x1="262.48" y1="1872.5" x2="262.48" y2="1878.5" stroke-width="1.6" stroke="#363636"/>
<text stroke="#000" stroke-width="0.25" transform="translate(262.48,1912.5) scale(1.000,1.070)" font-size="23.8" text-anchor="middle">16</text>
<line x1="296.6" y1="1872.5" x2="296.6" y2="1878.5" stroke-width="1.6" stroke="#363636"/>
<text stroke="#000" stroke-width="0.25" transform="translate(296.6,1912.5) scale(1.000,1.070)" font-size="23.8" text-anchor="middle">20</text>
<line x1="330.72" y1="1872.5" x2="330.72" y2="1878.5" stroke-width="1.6" stroke="#363636"/>
<text stroke="#000" stroke-width="0.25" transform="translate(330.72,1912.5) scale(1.000,1.070)" font-size="23.8" text-anchor="middle">24</text>
<line x1="364.84" y1="1872.5" x2="364.84" y2="1878.5" stroke-width="1.6" stroke="#363636"/>
<text stroke="#000" stroke-width="0.25" transform="translate(364.84,1912.5) scale(1.000,1.070)" font-size="23.8" text-anchor="middle">28</text>
<line x1="398.96" y1="1872.5" x2="398.96" y2="1878.5" stroke-width="1.6" stroke="#363636"/>
<text stroke="#000" stroke-width="0.25" transform="translate(398.96,1912.5) scale(1.000,1.070)" font-size="23.8" text-anchor="middle">32</text>
<line x1="433.08" y1="1872.5" x2="433.08" y2="1878.5" stroke-width="1.6" stroke="#363636"/>
<text stroke="#000" stroke-width="0.25" transform="translate(433.08,1912.5) scale(1.000,1.070)" font-size="23.8" text-anchor="middle">36</text>
<line x1="467.2" y1="1872.5" x2="467.2" y2="1878.5" stroke-width="1.6" stroke="#363636"/>
<text stroke="#000" stroke-width="0.25" transform="translate(467.2,1912.5) scale(1.000,1.070)" font-size="23.8" text-anchor="middle">40</text>
<line x1="501.32" y1="1872.5" x2="501.32" y2="1878.5" stroke-width="1.6" stroke="#363636"/>
<text stroke="#000" stroke-width="0.25" transform="translate(501.32,1912.5) scale(1.000,1.070)" font-size="23.8" text-anchor="middle">44</text>
<line x1="535.44" y1="1872.5" x2="535.44" y2="1878.5" stroke-width="1.6" stroke="#363636"/>
<text stroke="#000" stroke-width="0.25" transform="translate(535.44,1912.5) scale(1.000,1.070)" font-size="23.8" text-anchor="middle">48</text>
<line x1="569.56" y1="1872.5" x2="569.56" y2="1878.5" stroke-width="1.6" stroke="#363636"/>
<text stroke="#000" stroke-width="0.25" transform="translate(569.56,1912.5) scale(1.000,1.070)" font-size="23.8" text-anchor="middle">52</text>
<line x1="603.68" y1="1872.5" x2="603.68" y2="1878.5" stroke-width="1.6" stroke="#363636"/>
<text stroke="#000" stroke-width="0.25" transform="translate(603.68,1912.5) scale(1.000,1.070)" font-size="23.8" text-anchor="middle">56</text>
<line x1="637.8" y1="1872.5" x2="637.8" y2="1878.5" stroke-width="1.6" stroke="#363636"/>
<text stroke="#000" stroke-width="0.25" transform="translate(637.8,1912.5) scale(1.000,1.070)" font-size="23.8" text-anchor="middle">60</text>
<line x1="673.6" y1="1872.5" x2="673.6" y2="1878.5" stroke-width="1.6" stroke="#363636"/>
<text stroke="#000" stroke-width="0.25" transform="translate(673.6,1912.5) scale(1.000,1.070)" font-size="23.8" text-anchor="middle">0</text>
<line x1="709.88" y1="1872.5" x2="709.88" y2="1878.5" stroke-width="1.6" stroke="#363636"/>
<text stroke="#000" stroke-width="0.25" transform="translate(709.88,1912.5) scale(1.000,1.070)" font-size="23.8" text-anchor="middle">4</text>
<line x1="746.16" y1="1872.5" x2="746.16" y2="1878.5" stroke-width="1.6" stroke="#363636"/>
<text stroke="#000" stroke-width="0.25" transform="translate(746.16,1912.5) scale(1.000,1.070)" font-size="23.8" text-anchor="middle">8</text>
<line x1="782.44" y1="1872.5" x2="782.44" y2="1878.5" stroke-width="1.6" stroke="#363636"/>
<text stroke="#000" stroke-width="0.25" transform="translate(782.44,1912.5) scale(1.000,1.070)" font-size="23.8" text-anchor="middle">12</text>
<line x1="818.72" y1="1872.5" x2="818.72" y2="1878.5" stroke-width="1.6" stroke="#363636"/>
<text stroke="#000" stroke-width="0.25" transform="translate(818.72,1912.5) scale(1.000,1.070)" font-size="23.8" text-anchor="middle">16</text>
<line x1="855" y1="1872.5" x2="855" y2="1878.5" stroke-width="1.6" stroke="#363636"/>
<text stroke="#000" stroke-width="0.25" transform="translate(855,1912.5) scale(1.000,1.070)" font-size="23.8" text-anchor="middle">20</text>
<line x1="891.28" y1="1872.5" x2="891.28" y2="1878.5" stroke-width="1.6" stroke="#363636"/>
<text stroke="#000" stroke-width="0.25" transform="translate(891.28,1912.5) scale(1.000,1.070)" font-size="23.8" text-anchor="middle">24</text>
<line x1="927.56" y1="1872.5" x2="927.56" y2="1878.5" stroke-width="1.6" stroke="#363636"/>
<text stroke="#000" stroke-width="0.25" transform="translate(927.56,1912.5) scale(1.000,1.070)" font-size="23.8" text-anchor="middle">28</text>
<line x1="963.84" y1="1872.5" x2="963.84" y2="1878.5" stroke-width="1.6" stroke="#363636"/>
<text stroke="#000" stroke-width="0.25" transform="translate(963.84,1912.5) scale(1.000,1.070)" font-size="23.8" text-anchor="middle">32</text>
<line x1="1000.12" y1="1872.5" x2="1000.12" y2="1878.5" stroke-width="1.6" stroke="#363636"/>
<text stroke="#000" stroke-width="0.25" transform="translate(1000.12,1912.5) scale(1.000,1.070)" font-size="23.8" text-anchor="middle">36</text>
<line x1="1036.4" y1="1872.5" x2="1036.4" y2="1878.5" stroke-width="1.6" stroke="#363636"/>
<text stroke="#000" stroke-width="0.25" transform="translate(1036.4,1912.5) scale(1.000,1.070)" font-size="23.8" text-anchor="middle">40</text>
<line x1="1072.68" y1="1872.5" x2="1072.68" y2="1878.5" stroke-width="1.6" stroke="#363636"/>
<text stroke="#000" stroke-width="0.25" transform="translate(1072.68,1912.5) scale(1.000,1.070)" font-size="23.8" text-anchor="middle">44</text>
<line x1="1108.96" y1="1872.5" x2="1108.96" y2="1878.5" stroke-width="1.6" stroke="#363636"/>
<text stroke="#000" stroke-width="0.25" transform="translate(1108.96,1912.5) scale(1.000,1.070)" font-size="23.8" text-anchor="middle">48</text>
<line x1="1145.24" y1="1872.5" x2="1145.24" y2="1878.5" stroke-width="1.6" stroke="#363636"/>
<text stroke="#000" stroke-width="0.25" transform="translate(1145.24,1912.5) scale(1.000,1.070)" font-size="23.8" text-anchor="middle">52</text>
<line x1="1181.52" y1="1872.5" x2="1181.52" y2="1878.5" stroke-width="1.6" stroke="#363636"/>
<text stroke="#000" stroke-width="0.25" transform="translate(1181.52,1912.5) scale(1.000,1.070)" font-size="23.8" text-anchor="middle">56</text>
<line x1="1217.8" y1="1872.5" x2="1217.8" y2="1878.5" stroke-width="1.6" stroke="#363636"/>
<text stroke="#000" stroke-width="0.25" transform="translate(1217.8,1912.5) scale(1.000,1.070)" font-size="23.8" text-anchor="middle">60</text>
<text stroke="#000" stroke-width="0.25" transform="translate(38.2,1708.3) rotate(-90) scale(0.980,1.000)" x="0" y="0" font-size="26" text-anchor="middle">TP (mg/L)</text>
<polyline fill="none" stroke-width="1.35" points="126,1844.43 134.53,1770.41 160.12,1834.31 185.71,1824.72 211.3,1817.27 245.42,1836.44 279.54,1838.57 313.66,1840.7 347.78,1843.89 381.9,1844.96 467.2,1846.03 552.5,1846.03 637.8,1847.09"/>
<line x1="134.53" y1="1775.73" x2="134.53" y2="1765.09" stroke-width="1.35"/>
<line x1="128.53" y1="1775.73" x2="140.53" y2="1775.73" stroke-width="1.35"/>
<line x1="128.53" y1="1765.09" x2="140.53" y2="1765.09" stroke-width="1.35"/>
<circle cx="126" cy="1844.43" r="5.8"/>
<circle cx="134.53" cy="1770.41" r="5.8"/>
<circle cx="160.12" cy="1834.31" r="5.8"/>
<circle cx="185.71" cy="1824.72" r="5.8"/>
<circle cx="211.3" cy="1817.27" r="5.8"/>
<circle cx="245.42" cy="1836.44" r="5.8"/>
<circle cx="279.54" cy="1838.57" r="5.8"/>
<circle cx="313.66" cy="1840.7" r="5.8"/>
<circle cx="347.78" cy="1843.89" r="5.8"/>
<circle cx="381.9" cy="1844.96" r="5.8"/>
<circle cx="467.2" cy="1846.03" r="5.8"/>
<circle cx="552.5" cy="1846.03" r="5.8"/>
<circle cx="637.8" cy="1847.09" r="5.8"/>
<polyline fill="none" stroke-width="1.35" points="126,1650.07 134.53,1813.01 160.12,1807.68 185.71,1757.63 211.3,1759.76 245.42,1793.84 279.54,1695.86 313.66,1677.76 347.78,1600.01 381.9,1683.08 467.2,1756.57 552.5,1800.23 637.8,1807.68"/>
<line x1="126" y1="1653.26" x2="126" y2="1646.87" stroke-width="1.35"/>
<line x1="120" y1="1653.26" x2="132" y2="1653.26" stroke-width="1.35"/>
<line x1="120" y1="1646.87" x2="132" y2="1646.87" stroke-width="1.35"/>
<line x1="185.71" y1="1760.83" x2="185.71" y2="1754.43" stroke-width="1.35"/>
<line x1="179.71" y1="1760.83" x2="191.71" y2="1760.83" stroke-width="1.35"/>
<line x1="179.71" y1="1754.43" x2="191.71" y2="1754.43" stroke-width="1.35"/>
<line x1="211.3" y1="1769.35" x2="211.3" y2="1750.17" stroke-width="1.35"/>
<line x1="205.3" y1="1769.35" x2="217.3" y2="1769.35" stroke-width="1.35"/>
<line x1="205.3" y1="1750.17" x2="217.3" y2="1750.17" stroke-width="1.35"/>
<line x1="245.42" y1="1795.97" x2="245.42" y2="1790.64" stroke-width="1.35"/>
<line x1="239.42" y1="1795.97" x2="251.42" y2="1795.97" stroke-width="1.35"/>
<line x1="239.42" y1="1790.64" x2="251.42" y2="1790.64" stroke-width="1.35"/>
<line x1="279.54" y1="1699.06" x2="279.54" y2="1692.66" stroke-width="1.35"/>
<line x1="273.54" y1="1699.06" x2="285.54" y2="1699.06" stroke-width="1.35"/>
<line x1="273.54" y1="1692.66" x2="285.54" y2="1692.66" stroke-width="1.35"/>
<line x1="313.66" y1="1679.88" x2="313.66" y2="1674.56" stroke-width="1.35"/>
<line x1="307.66" y1="1679.88" x2="319.66" y2="1679.88" stroke-width="1.35"/>
<line x1="307.66" y1="1674.56" x2="319.66" y2="1674.56" stroke-width="1.35"/>
<line x1="381.9" y1="1686.28" x2="381.9" y2="1679.88" stroke-width="1.35"/>
<line x1="375.9" y1="1686.28" x2="387.9" y2="1686.28" stroke-width="1.35"/>
<line x1="375.9" y1="1679.88" x2="387.9" y2="1679.88" stroke-width="1.35"/>
<line x1="552.5" y1="1811.94" x2="552.5" y2="1788.52" stroke-width="1.35"/>
<line x1="546.5" y1="1811.94" x2="558.5" y2="1811.94" stroke-width="1.35"/>
<line x1="546.5" y1="1788.52" x2="558.5" y2="1788.52" stroke-width="1.35"/>
<path d="M119.74 1644.95H132.26L126 1656.32Z"/>
<path d="M128.27 1807.89H140.79L134.53 1819.26Z"/>
<path d="M153.86 1802.57H166.38L160.12 1813.94Z"/>
<path d="M179.45 1752.51H191.97L185.71 1763.88Z"/>
<path d="M205.04 1754.64H217.56L211.3 1766.01Z"/>
<path d="M239.16 1788.72H251.68L245.42 1800.09Z"/>
<path d="M273.28 1690.74H285.8L279.54 1702.11Z"/>
<path d="M307.4 1672.64H319.92L313.66 1684.01Z"/>
<path d="M341.52 1594.89H354.04L347.78 1606.26Z"/>
<path d="M375.64 1677.96H388.16L381.9 1689.33Z"/>
<path d="M460.94 1751.45H473.46L467.2 1762.82Z"/>
<path d="M546.24 1795.11H558.76L552.5 1806.48Z"/>
<path d="M631.54 1802.57H644.06L637.8 1813.94Z"/>
<polyline fill="none" stroke-width="1.35" points="126,1839.63 134.53,1793.84 160.12,1741.65 185.71,1653.26 211.3,1749.11 245.42,1689.47 279.54,1624.51 313.66,1610.66 347.78,1592.56 381.9,1654.33 467.2,1661.78 552.5,1675.62 637.8,1709.7"/>
<line x1="185.71" y1="1662.85" x2="185.71" y2="1641.55" stroke-width="1.35"/>
<line x1="179.71" y1="1662.85" x2="191.71" y2="1662.85" stroke-width="1.35"/>
<line x1="179.71" y1="1641.55" x2="191.71" y2="1641.55" stroke-width="1.35"/>
<line x1="279.54" y1="1634.09" x2="279.54" y2="1612.79" stroke-width="1.35"/>
<line x1="273.54" y1="1634.09" x2="285.54" y2="1634.09" stroke-width="1.35"/>
<line x1="273.54" y1="1612.79" x2="285.54" y2="1612.79" stroke-width="1.35"/>
<line x1="347.78" y1="1602.14" x2="347.78" y2="1581.9" stroke-width="1.35"/>
<line x1="341.78" y1="1602.14" x2="353.78" y2="1602.14" stroke-width="1.35"/>
<line x1="341.78" y1="1581.9" x2="353.78" y2="1581.9" stroke-width="1.35"/>
<line x1="467.2" y1="1669.23" x2="467.2" y2="1654.33" stroke-width="1.35"/>
<line x1="461.2" y1="1669.23" x2="473.2" y2="1669.23" stroke-width="1.35"/>
<line x1="461.2" y1="1654.33" x2="473.2" y2="1654.33" stroke-width="1.35"/>
<line x1="637.8" y1="1719.29" x2="637.8" y2="1700.12" stroke-width="1.35"/>
<line x1="631.8" y1="1719.29" x2="643.8" y2="1719.29" stroke-width="1.35"/>
<line x1="631.8" y1="1700.12" x2="643.8" y2="1700.12" stroke-width="1.35"/>
<rect x="120.49" y="1834.12" width="11.02" height="11.02"/>
<rect x="129.02" y="1788.33" width="11.02" height="11.02"/>
<rect x="154.61" y="1736.14" width="11.02" height="11.02"/>
<rect x="180.2" y="1647.75" width="11.02" height="11.02"/>
<rect x="205.79" y="1743.6" width="11.02" height="11.02"/>
<rect x="239.91" y="1683.96" width="11.02" height="11.02"/>
<rect x="274.03" y="1619" width="11.02" height="11.02"/>
<rect x="308.15" y="1605.15" width="11.02" height="11.02"/>
<rect x="342.27" y="1587.05" width="11.02" height="11.02"/>
<rect x="376.39" y="1648.82" width="11.02" height="11.02"/>
<rect x="461.69" y="1656.27" width="11.02" height="11.02"/>
<rect x="546.99" y="1670.12" width="11.02" height="11.02"/>
<rect x="632.29" y="1704.19" width="11.02" height="11.02"/>
<polyline fill="none" stroke-width="1.35" points="673.6,1843.89 682.67,1848.15 709.88,1819.4 737.09,1801.3 764.3,1834.31 800.58,1841.77 836.86,1843.89 873.14,1849.22 909.42,1852.95 945.7,1855.61 1036.4,1855.61 1127.1,1856.67 1217.8,1857.74"/>
<circle cx="673.6" cy="1843.89" r="5.8"/>
<circle cx="682.67" cy="1848.15" r="5.8"/>
<circle cx="709.88" cy="1819.4" r="5.8"/>
<circle cx="737.09" cy="1801.3" r="5.8"/>
<circle cx="764.3" cy="1834.31" r="5.8"/>
<circle cx="800.58" cy="1841.77" r="5.8"/>
<circle cx="836.86" cy="1843.89" r="5.8"/>
<circle cx="873.14" cy="1849.22" r="5.8"/>
<circle cx="909.42" cy="1852.95" r="5.8"/>
<circle cx="945.7" cy="1855.61" r="5.8"/>
<circle cx="1036.4" cy="1855.61" r="5.8"/>
<circle cx="1127.1" cy="1856.67" r="5.8"/>
<circle cx="1217.8" cy="1857.74" r="5.8"/>
<polyline fill="none" stroke-width="1.35" points="673.6,1645.81 682.67,1803.96 709.88,1823.66 737.09,1826.86 764.3,1822.6 800.58,1841.77 836.86,1833.24 873.14,1844.96 909.42,1849.22 945.7,1852.41 1036.4,1855.61 1127.1,1854.55 1217.8,1854.55"/>
<line x1="673.6" y1="1649" x2="673.6" y2="1642.61" stroke-width="1.35"/>
<line x1="667.6" y1="1649" x2="679.6" y2="1649" stroke-width="1.35"/>
<line x1="667.6" y1="1642.61" x2="679.6" y2="1642.61" stroke-width="1.35"/>
<line x1="682.67" y1="1806.62" x2="682.67" y2="1801.3" stroke-width="1.35"/>
<line x1="676.67" y1="1806.62" x2="688.67" y2="1806.62" stroke-width="1.35"/>
<line x1="676.67" y1="1801.3" x2="688.67" y2="1801.3" stroke-width="1.35"/>
<path d="M667.34 1640.69H679.86L673.6 1652.06Z"/>
<path d="M676.41 1798.84H688.93L682.67 1810.21Z"/>
<path d="M703.62 1818.54H716.14L709.88 1829.91Z"/>
<path d="M730.83 1821.74H743.35L737.09 1833.11Z"/>
<path d="M758.04 1817.48H770.56L764.3 1828.85Z"/>
<path d="M794.32 1836.65H806.84L800.58 1848.02Z"/>
<path d="M830.6 1828.13H843.12L836.86 1839.5Z"/>
<path d="M866.88 1839.84H879.4L873.14 1851.21Z"/>
<path d="M903.16 1844.1H915.68L909.42 1855.47Z"/>
<path d="M939.44 1847.3H951.96L945.7 1858.67Z"/>
<path d="M1030.14 1850.49H1042.66L1036.4 1861.86Z"/>
<path d="M1120.84 1849.43H1133.36L1127.1 1860.8Z"/>
<path d="M1211.54 1849.43H1224.06L1217.8 1860.8Z"/>
<polyline fill="none" stroke-width="1.35" points="673.6,1838.57 682.67,1691.6 709.88,1732.07 737.09,1736.33 764.3,1772.54 800.58,1807.68 836.86,1819.4 873.14,1840.7 909.42,1846.03 945.7,1847.09 1036.4,1849.22 1127.1,1851.35 1217.8,1851.35"/>
<rect x="668.09" y="1833.06" width="11.02" height="11.02"/>
<rect x="677.16" y="1686.09" width="11.02" height="11.02"/>
<rect x="704.37" y="1726.56" width="11.02" height="11.02"/>
<rect x="731.58" y="1730.82" width="11.02" height="11.02"/>
<rect x="758.79" y="1767.03" width="11.02" height="11.02"/>
<rect x="795.07" y="1802.17" width="11.02" height="11.02"/>
<rect x="831.35" y="1813.89" width="11.02" height="11.02"/>
<rect x="867.63" y="1835.19" width="11.02" height="11.02"/>
<rect x="903.91" y="1840.52" width="11.02" height="11.02"/>
<rect x="940.19" y="1841.58" width="11.02" height="11.02"/>
<rect x="1030.89" y="1843.71" width="11.02" height="11.02"/>
<rect x="1121.59" y="1845.84" width="11.02" height="11.02"/>
<rect x="1212.29" y="1845.84" width="11.02" height="11.02"/>
<line x1="114.8" y1="1925" x2="114.8" y2="2279" stroke-width="1.6" stroke="#363636"/>
<line x1="108.3" y1="2267" x2="114.8" y2="2267" stroke-width="1.6" stroke="#363636"/>
<text stroke="#000" stroke-width="0.25" transform="translate(96.2,2275.32) scale(1.000,1.050)" font-size="23.8" text-anchor="end">0.0</text>
<line x1="108.3" y1="2221.28" x2="114.8" y2="2221.28" stroke-width="1.6" stroke="#363636"/>
<text stroke="#000" stroke-width="0.25" transform="translate(96.2,2229.6) scale(1.000,1.050)" font-size="23.8" text-anchor="end">0.4</text>
<line x1="108.3" y1="2175.56" x2="114.8" y2="2175.56" stroke-width="1.6" stroke="#363636"/>
<text stroke="#000" stroke-width="0.25" transform="translate(96.2,2183.88) scale(1.000,1.050)" font-size="23.8" text-anchor="end">0.8</text>
<line x1="108.3" y1="2129.84" x2="114.8" y2="2129.84" stroke-width="1.6" stroke="#363636"/>
<text stroke="#000" stroke-width="0.25" transform="translate(96.2,2138.16) scale(1.000,1.050)" font-size="23.8" text-anchor="end">1.2</text>
<line x1="108.3" y1="2084.12" x2="114.8" y2="2084.12" stroke-width="1.6" stroke="#363636"/>
<text stroke="#000" stroke-width="0.25" transform="translate(96.2,2092.44) scale(1.000,1.050)" font-size="23.8" text-anchor="end">1.6</text>
<line x1="108.3" y1="2038.4" x2="114.8" y2="2038.4" stroke-width="1.6" stroke="#363636"/>
<text stroke="#000" stroke-width="0.25" transform="translate(96.2,2046.72) scale(1.000,1.050)" font-size="23.8" text-anchor="end">2.0</text>
<line x1="108.3" y1="1992.68" x2="114.8" y2="1992.68" stroke-width="1.6" stroke="#363636"/>
<text stroke="#000" stroke-width="0.25" transform="translate(96.2,2001) scale(1.000,1.050)" font-size="23.8" text-anchor="end">2.4</text>
<line x1="108.3" y1="1946.96" x2="114.8" y2="1946.96" stroke-width="1.6" stroke="#363636"/>
<text stroke="#000" stroke-width="0.25" transform="translate(96.2,1955.28) scale(1.000,1.050)" font-size="23.8" text-anchor="end">2.8</text>
<line x1="656.4" y1="1921" x2="656.4" y2="2279" stroke-width="1.6" stroke="#363636"/>
<line x1="115" y1="2279" x2="1243.6" y2="2279" stroke-width="1.6" stroke="#363636"/>
<line x1="131.4" y1="2279" x2="131.4" y2="2285" stroke-width="1.6" stroke="#363636"/>
<text stroke="#000" stroke-width="0.25" transform="translate(131.4,2318.6) scale(1.000,1.080)" font-size="23.8" text-anchor="middle">0</text>
<line x1="165.16" y1="2279" x2="165.16" y2="2285" stroke-width="1.6" stroke="#363636"/>
<text stroke="#000" stroke-width="0.25" transform="translate(165.16,2318.6) scale(1.000,1.080)" font-size="23.8" text-anchor="middle">4</text>
<line x1="198.92" y1="2279" x2="198.92" y2="2285" stroke-width="1.6" stroke="#363636"/>
<text stroke="#000" stroke-width="0.25" transform="translate(198.92,2318.6) scale(1.000,1.080)" font-size="23.8" text-anchor="middle">8</text>
<line x1="232.68" y1="2279" x2="232.68" y2="2285" stroke-width="1.6" stroke="#363636"/>
<text stroke="#000" stroke-width="0.25" transform="translate(232.68,2318.6) scale(1.000,1.080)" font-size="23.8" text-anchor="middle">12</text>
<line x1="266.44" y1="2279" x2="266.44" y2="2285" stroke-width="1.6" stroke="#363636"/>
<text stroke="#000" stroke-width="0.25" transform="translate(266.44,2318.6) scale(1.000,1.080)" font-size="23.8" text-anchor="middle">16</text>
<line x1="300.2" y1="2279" x2="300.2" y2="2285" stroke-width="1.6" stroke="#363636"/>
<text stroke="#000" stroke-width="0.25" transform="translate(300.2,2318.6) scale(1.000,1.080)" font-size="23.8" text-anchor="middle">20</text>
<line x1="333.96" y1="2279" x2="333.96" y2="2285" stroke-width="1.6" stroke="#363636"/>
<text stroke="#000" stroke-width="0.25" transform="translate(333.96,2318.6) scale(1.000,1.080)" font-size="23.8" text-anchor="middle">24</text>
<line x1="367.72" y1="2279" x2="367.72" y2="2285" stroke-width="1.6" stroke="#363636"/>
<text stroke="#000" stroke-width="0.25" transform="translate(367.72,2318.6) scale(1.000,1.080)" font-size="23.8" text-anchor="middle">28</text>
<line x1="401.48" y1="2279" x2="401.48" y2="2285" stroke-width="1.6" stroke="#363636"/>
<text stroke="#000" stroke-width="0.25" transform="translate(401.48,2318.6) scale(1.000,1.080)" font-size="23.8" text-anchor="middle">32</text>
<line x1="435.24" y1="2279" x2="435.24" y2="2285" stroke-width="1.6" stroke="#363636"/>
<text stroke="#000" stroke-width="0.25" transform="translate(435.24,2318.6) scale(1.000,1.080)" font-size="23.8" text-anchor="middle">36</text>
<line x1="469" y1="2279" x2="469" y2="2285" stroke-width="1.6" stroke="#363636"/>
<text stroke="#000" stroke-width="0.25" transform="translate(469,2318.6) scale(1.000,1.080)" font-size="23.8" text-anchor="middle">40</text>
<line x1="502.76" y1="2279" x2="502.76" y2="2285" stroke-width="1.6" stroke="#363636"/>
<text stroke="#000" stroke-width="0.25" transform="translate(502.76,2318.6) scale(1.000,1.080)" font-size="23.8" text-anchor="middle">44</text>
<line x1="536.52" y1="2279" x2="536.52" y2="2285" stroke-width="1.6" stroke="#363636"/>
<text stroke="#000" stroke-width="0.25" transform="translate(536.52,2318.6) scale(1.000,1.080)" font-size="23.8" text-anchor="middle">48</text>
<line x1="570.28" y1="2279" x2="570.28" y2="2285" stroke-width="1.6" stroke="#363636"/>
<text stroke="#000" stroke-width="0.25" transform="translate(570.28,2318.6) scale(1.000,1.080)" font-size="23.8" text-anchor="middle">52</text>
<line x1="604.04" y1="2279" x2="604.04" y2="2285" stroke-width="1.6" stroke="#363636"/>
<text stroke="#000" stroke-width="0.25" transform="translate(604.04,2318.6) scale(1.000,1.080)" font-size="23.8" text-anchor="middle">56</text>
<line x1="637.8" y1="2279" x2="637.8" y2="2285" stroke-width="1.6" stroke="#363636"/>
<text stroke="#000" stroke-width="0.25" transform="translate(637.8,2318.6) scale(1.000,1.080)" font-size="23.8" text-anchor="middle">60</text>
<line x1="675" y1="2279" x2="675" y2="2285" stroke-width="1.6" stroke="#363636"/>
<text stroke="#000" stroke-width="0.25" transform="translate(675,2318.6) scale(1.000,1.080)" font-size="23.8" text-anchor="middle">0</text>
<line x1="711.72" y1="2279" x2="711.72" y2="2285" stroke-width="1.6" stroke="#363636"/>
<text stroke="#000" stroke-width="0.25" transform="translate(711.72,2318.6) scale(1.000,1.080)" font-size="23.8" text-anchor="middle">4</text>
<line x1="748.44" y1="2279" x2="748.44" y2="2285" stroke-width="1.6" stroke="#363636"/>
<text stroke="#000" stroke-width="0.25" transform="translate(748.44,2318.6) scale(1.000,1.080)" font-size="23.8" text-anchor="middle">8</text>
<line x1="785.16" y1="2279" x2="785.16" y2="2285" stroke-width="1.6" stroke="#363636"/>
<text stroke="#000" stroke-width="0.25" transform="translate(785.16,2318.6) scale(1.000,1.080)" font-size="23.8" text-anchor="middle">12</text>
<line x1="821.88" y1="2279" x2="821.88" y2="2285" stroke-width="1.6" stroke="#363636"/>
<text stroke="#000" stroke-width="0.25" transform="translate(821.88,2318.6) scale(1.000,1.080)" font-size="23.8" text-anchor="middle">16</text>
<line x1="858.6" y1="2279" x2="858.6" y2="2285" stroke-width="1.6" stroke="#363636"/>
<text stroke="#000" stroke-width="0.25" transform="translate(858.6,2318.6) scale(1.000,1.080)" font-size="23.8" text-anchor="middle">20</text>
<line x1="895.32" y1="2279" x2="895.32" y2="2285" stroke-width="1.6" stroke="#363636"/>
<text stroke="#000" stroke-width="0.25" transform="translate(895.32,2318.6) scale(1.000,1.080)" font-size="23.8" text-anchor="middle">24</text>
<line x1="932.04" y1="2279" x2="932.04" y2="2285" stroke-width="1.6" stroke="#363636"/>
<text stroke="#000" stroke-width="0.25" transform="translate(932.04,2318.6) scale(1.000,1.080)" font-size="23.8" text-anchor="middle">28</text>
<line x1="968.76" y1="2279" x2="968.76" y2="2285" stroke-width="1.6" stroke="#363636"/>
<text stroke="#000" stroke-width="0.25" transform="translate(968.76,2318.6) scale(1.000,1.080)" font-size="23.8" text-anchor="middle">32</text>
<line x1="1005.48" y1="2279" x2="1005.48" y2="2285" stroke-width="1.6" stroke="#363636"/>
<text stroke="#000" stroke-width="0.25" transform="translate(1005.48,2318.6) scale(1.000,1.080)" font-size="23.8" text-anchor="middle">36</text>
<line x1="1042.2" y1="2279" x2="1042.2" y2="2285" stroke-width="1.6" stroke="#363636"/>
<text stroke="#000" stroke-width="0.25" transform="translate(1042.2,2318.6) scale(1.000,1.080)" font-size="23.8" text-anchor="middle">40</text>
<line x1="1078.92" y1="2279" x2="1078.92" y2="2285" stroke-width="1.6" stroke="#363636"/>
<text stroke="#000" stroke-width="0.25" transform="translate(1078.92,2318.6) scale(1.000,1.080)" font-size="23.8" text-anchor="middle">44</text>
<line x1="1115.64" y1="2279" x2="1115.64" y2="2285" stroke-width="1.6" stroke="#363636"/>
<text stroke="#000" stroke-width="0.25" transform="translate(1115.64,2318.6) scale(1.000,1.080)" font-size="23.8" text-anchor="middle">48</text>
<line x1="1152.36" y1="2279" x2="1152.36" y2="2285" stroke-width="1.6" stroke="#363636"/>
<text stroke="#000" stroke-width="0.25" transform="translate(1152.36,2318.6) scale(1.000,1.080)" font-size="23.8" text-anchor="middle">52</text>
<line x1="1189.08" y1="2279" x2="1189.08" y2="2285" stroke-width="1.6" stroke="#363636"/>
<text stroke="#000" stroke-width="0.25" transform="translate(1189.08,2318.6) scale(1.000,1.080)" font-size="23.8" text-anchor="middle">56</text>
<line x1="1225.8" y1="2279" x2="1225.8" y2="2285" stroke-width="1.6" stroke="#363636"/>
<text stroke="#000" stroke-width="0.25" transform="translate(1225.8,2318.6) scale(1.000,1.080)" font-size="23.8" text-anchor="middle">60</text>
<text stroke="#000" stroke-width="0.25" transform="translate(42,2101.6) rotate(-90) scale(1.040,1.000)" x="0" y="0" font-size="26" text-anchor="middle">IP (mg/L)</text>
<polyline fill="none" stroke-width="1.35" points="131.4,2259 139.84,2202.99 165.16,2245.28 190.48,2245.28 215.8,2241.85 249.56,2243 283.32,2245.28 317.08,2247.57 350.84,2248.71 384.6,2249.86 469,2252.14 553.4,2254.43 637.8,2254.43"/>
<line x1="190.48" y1="2252.14" x2="190.48" y2="2238.43" stroke-width="1.35"/>
<line x1="184.48" y1="2252.14" x2="196.48" y2="2252.14" stroke-width="1.35"/>
<line x1="184.48" y1="2238.43" x2="196.48" y2="2238.43" stroke-width="1.35"/>
<circle cx="131.4" cy="2259" r="5.8"/>
<circle cx="139.84" cy="2202.99" r="5.8"/>
<circle cx="165.16" cy="2245.28" r="5.8"/>
<circle cx="190.48" cy="2245.28" r="5.8"/>
<circle cx="215.8" cy="2241.85" r="5.8"/>
<circle cx="249.56" cy="2243" r="5.8"/>
<circle cx="283.32" cy="2245.28" r="5.8"/>
<circle cx="317.08" cy="2247.57" r="5.8"/>
<circle cx="350.84" cy="2248.71" r="5.8"/>
<circle cx="384.6" cy="2249.86" r="5.8"/>
<circle cx="469" cy="2252.14" r="5.8"/>
<circle cx="553.4" cy="2254.43" r="5.8"/>
<circle cx="637.8" cy="2254.43" r="5.8"/>
<polyline fill="none" stroke-width="1.35" points="131.4,2065.83 139.84,2256.71 165.16,2233.85 190.48,2194.99 215.8,2172.13 249.56,2198.42 283.32,2106.98 317.08,2081.83 350.84,1998.39 384.6,2074.98 469,2164.13 553.4,2214.99 637.8,2209.85"/>
<line x1="131.4" y1="2069.26" x2="131.4" y2="2062.4" stroke-width="1.35"/>
<line x1="125.4" y1="2069.26" x2="137.4" y2="2069.26" stroke-width="1.35"/>
<line x1="125.4" y1="2062.4" x2="137.4" y2="2062.4" stroke-width="1.35"/>
<line x1="165.16" y1="2236.14" x2="165.16" y2="2231.57" stroke-width="1.35"/>
<line x1="159.16" y1="2236.14" x2="171.16" y2="2236.14" stroke-width="1.35"/>
<line x1="159.16" y1="2231.57" x2="171.16" y2="2231.57" stroke-width="1.35"/>
<line x1="283.32" y1="2110.41" x2="283.32" y2="2103.55" stroke-width="1.35"/>
<line x1="277.32" y1="2110.41" x2="289.32" y2="2110.41" stroke-width="1.35"/>
<line x1="277.32" y1="2103.55" x2="289.32" y2="2103.55" stroke-width="1.35"/>
<line x1="317.08" y1="2084.12" x2="317.08" y2="2078.41" stroke-width="1.35"/>
<line x1="311.08" y1="2084.12" x2="323.08" y2="2084.12" stroke-width="1.35"/>
<line x1="311.08" y1="2078.41" x2="323.08" y2="2078.41" stroke-width="1.35"/>
<line x1="350.84" y1="2000.68" x2="350.84" y2="1996.11" stroke-width="1.35"/>
<line x1="344.84" y1="2000.68" x2="356.84" y2="2000.68" stroke-width="1.35"/>
<line x1="344.84" y1="1996.11" x2="356.84" y2="1996.11" stroke-width="1.35"/>
<line x1="469" y1="2166.42" x2="469" y2="2160.7" stroke-width="1.35"/>
<line x1="463" y1="2166.42" x2="475" y2="2166.42" stroke-width="1.35"/>
<line x1="463" y1="2160.7" x2="475" y2="2160.7" stroke-width="1.35"/>
<path d="M125.14 2060.72H137.66L131.4 2072.08Z"/>
<path d="M133.58 2251.6H146.1L139.84 2262.97Z"/>
<path d="M158.9 2228.74H171.42L165.16 2240.11Z"/>
<path d="M184.22 2189.88H196.74L190.48 2201.24Z"/>
<path d="M209.54 2167.02H222.06L215.8 2178.38Z"/>
<path d="M243.3 2193.3H255.82L249.56 2204.67Z"/>
<path d="M277.06 2101.86H289.58L283.32 2113.23Z"/>
<path d="M310.82 2076.72H323.34L317.08 2088.09Z"/>
<path d="M344.58 1993.28H357.1L350.84 2004.65Z"/>
<path d="M378.34 2069.86H390.86L384.6 2081.23Z"/>
<path d="M462.74 2159.01H475.26L469 2170.38Z"/>
<path d="M547.14 2209.88H559.66L553.4 2221.25Z"/>
<path d="M631.54 2204.73H644.06L637.8 2216.1Z"/>
<polyline fill="none" stroke-width="1.35" points="131.4,2259 139.84,2222.42 165.16,2169.84 190.48,2078.41 215.8,2158.41 249.56,2194.99 283.32,2037.26 317.08,1998.39 350.84,1970.96 384.6,2042.97 469,2070.4 553.4,2072.69 637.8,2111.55"/>
<line x1="190.48" y1="2087.55" x2="190.48" y2="2066.97" stroke-width="1.35"/>
<line x1="184.48" y1="2087.55" x2="196.48" y2="2087.55" stroke-width="1.35"/>
<line x1="184.48" y1="2066.97" x2="196.48" y2="2066.97" stroke-width="1.35"/>
<line x1="215.8" y1="2161.84" x2="215.8" y2="2153.84" stroke-width="1.35"/>
<line x1="209.8" y1="2161.84" x2="221.8" y2="2161.84" stroke-width="1.35"/>
<line x1="209.8" y1="2153.84" x2="221.8" y2="2153.84" stroke-width="1.35"/>
<line x1="317.08" y1="2007.54" x2="317.08" y2="1990.39" stroke-width="1.35"/>
<line x1="311.08" y1="2007.54" x2="323.08" y2="2007.54" stroke-width="1.35"/>
<line x1="311.08" y1="1990.39" x2="323.08" y2="1990.39" stroke-width="1.35"/>
<line x1="350.84" y1="1974.39" x2="350.84" y2="1967.53" stroke-width="1.35"/>
<line x1="344.84" y1="1974.39" x2="356.84" y2="1974.39" stroke-width="1.35"/>
<line x1="344.84" y1="1967.53" x2="356.84" y2="1967.53" stroke-width="1.35"/>
<line x1="384.6" y1="2047.54" x2="384.6" y2="2038.4" stroke-width="1.35"/>
<line x1="378.6" y1="2047.54" x2="390.6" y2="2047.54" stroke-width="1.35"/>
<line x1="378.6" y1="2038.4" x2="390.6" y2="2038.4" stroke-width="1.35"/>
<rect x="125.89" y="2253.49" width="11.02" height="11.02"/>
<rect x="134.33" y="2216.91" width="11.02" height="11.02"/>
<rect x="159.65" y="2164.33" width="11.02" height="11.02"/>
<rect x="184.97" y="2072.89" width="11.02" height="11.02"/>
<rect x="210.29" y="2152.9" width="11.02" height="11.02"/>
<rect x="244.05" y="2189.48" width="11.02" height="11.02"/>
<rect x="277.81" y="2031.75" width="11.02" height="11.02"/>
<rect x="311.57" y="1992.88" width="11.02" height="11.02"/>
<rect x="345.33" y="1965.45" width="11.02" height="11.02"/>
<rect x="379.09" y="2037.46" width="11.02" height="11.02"/>
<rect x="463.49" y="2064.89" width="11.02" height="11.02"/>
<rect x="547.89" y="2067.18" width="11.02" height="11.02"/>
<rect x="632.29" y="2106.04" width="11.02" height="11.02"/>
<polyline fill="none" stroke-width="1.35" points="675,2259 684.18,2259 711.72,2242.43 739.26,2221.28 766.8,2239.57 803.52,2248.71 840.24,2253.28 876.96,2253.28 913.68,2260.83 950.4,2262.43 1042.2,2263 1134,2264.71 1225.8,2265.63"/>
<circle cx="675" cy="2259" r="5.8"/>
<circle cx="684.18" cy="2259" r="5.8"/>
<circle cx="711.72" cy="2242.43" r="5.8"/>
<circle cx="739.26" cy="2221.28" r="5.8"/>
<circle cx="766.8" cy="2239.57" r="5.8"/>
<circle cx="803.52" cy="2248.71" r="5.8"/>
<circle cx="840.24" cy="2253.28" r="5.8"/>
<circle cx="876.96" cy="2253.28" r="5.8"/>
<circle cx="913.68" cy="2260.83" r="5.8"/>
<circle cx="950.4" cy="2262.43" r="5.8"/>
<circle cx="1042.2" cy="2263" r="5.8"/>
<circle cx="1134" cy="2264.71" r="5.8"/>
<circle cx="1225.8" cy="2265.63" r="5.8"/>
<polyline fill="none" stroke-width="1.35" points="675,2063.55 684.18,2218.99 711.72,2232.71 739.26,2239 766.8,2231.57 803.52,2248.71 840.24,2253.28 876.96,2252.14 913.68,2259 950.4,2261.28 1042.2,2262.43 1134,2265.63 1225.8,2264.71"/>
<line x1="675" y1="2068.12" x2="675" y2="2061.26" stroke-width="1.35"/>
<line x1="669" y1="2068.12" x2="681" y2="2068.12" stroke-width="1.35"/>
<line x1="669" y1="2061.26" x2="681" y2="2061.26" stroke-width="1.35"/>
<path d="M668.74 2058.43H681.26L675 2069.8Z"/>
<path d="M677.92 2213.88H690.44L684.18 2225.25Z"/>
<path d="M705.46 2227.59H717.98L711.72 2238.96Z"/>
<path d="M733 2233.88H745.52L739.26 2245.25Z"/>
<path d="M760.54 2226.45H773.06L766.8 2237.82Z"/>
<path d="M797.26 2243.6H809.78L803.52 2254.96Z"/>
<path d="M833.98 2248.17H846.5L840.24 2259.54Z"/>
<path d="M870.7 2247.03H883.22L876.96 2258.39Z"/>
<path d="M907.42 2253.88H919.94L913.68 2265.25Z"/>
<path d="M944.14 2256.17H956.66L950.4 2267.54Z"/>
<path d="M1035.94 2257.31H1048.46L1042.2 2268.68Z"/>
<path d="M1127.74 2260.51H1140.26L1134 2271.88Z"/>
<path d="M1219.54 2259.6H1232.06L1225.8 2270.97Z"/>
<polyline fill="none" stroke-width="1.35" points="675,2259 684.18,2117.27 711.72,2135.55 739.26,2153.84 766.8,2180.13 803.52,2213.28 840.24,2222.99 876.96,2246.43 913.68,2251 950.4,2253.28 1042.2,2255 1134,2256.94 1225.8,2257.63"/>
<rect x="669.49" y="2253.49" width="11.02" height="11.02"/>
<rect x="678.67" y="2111.76" width="11.02" height="11.02"/>
<rect x="706.21" y="2130.04" width="11.02" height="11.02"/>
<rect x="733.75" y="2148.33" width="11.02" height="11.02"/>
<rect x="761.29" y="2174.62" width="11.02" height="11.02"/>
<rect x="798.01" y="2207.77" width="11.02" height="11.02"/>
<rect x="834.73" y="2217.48" width="11.02" height="11.02"/>
<rect x="871.45" y="2240.92" width="11.02" height="11.02"/>
<rect x="908.17" y="2245.49" width="11.02" height="11.02"/>
<rect x="944.89" y="2247.77" width="11.02" height="11.02"/>
<rect x="1036.69" y="2249.49" width="11.02" height="11.02"/>
<rect x="1128.49" y="2251.43" width="11.02" height="11.02"/>
<rect x="1220.29" y="2252.12" width="11.02" height="11.02"/>
<text stroke="#000" stroke-width="0.25" transform="translate(385.3,2365.2) scale(1.023,1.000)" font-size="26" text-anchor="middle">Sampling Time (day)</text>
<text stroke="#000" stroke-width="0.25" transform="translate(950.4,2364.4) scale(1.023,1.000)" font-size="26" text-anchor="middle">Sampling Time (day)</text>
<text stroke="#000" stroke-width="0.25" x="385.6" y="2423" font-size="35" text-anchor="middle" font-weight="bold">The static system</text>
<text stroke="#000" stroke-width="0.25" x="941" y="2424.6" font-size="35" text-anchor="middle" font-weight="bold">The PDCS</text>
</g>
</svg>
</body></html>
